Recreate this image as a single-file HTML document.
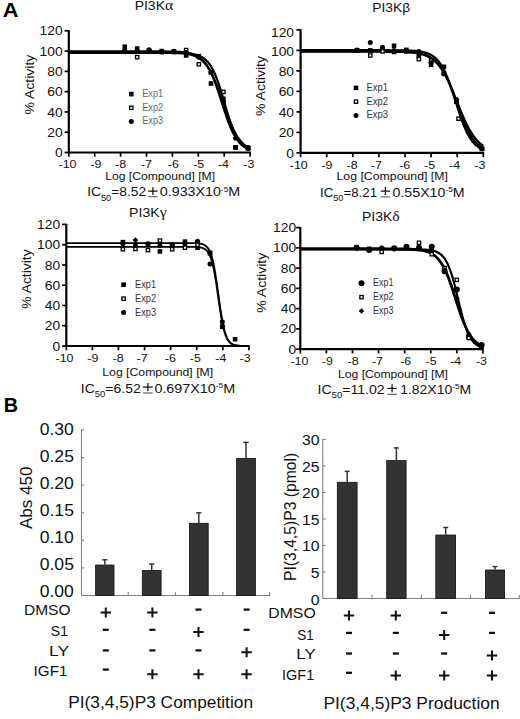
<!DOCTYPE html>
<html><head><meta charset="utf-8"><style>
html,body{margin:0;padding:0;background:#fff;width:520px;height:719px;overflow:hidden}
svg{display:block}
text{font-family:"Liberation Sans", sans-serif}
</style></head><body>
<svg width="520" height="719" viewBox="0 0 520 719">
<rect width="520" height="719" fill="#fff"/>
<text x="2.86" y="17.3" font-size="20.4" textLength="15.74" lengthAdjust="spacingAndGlyphs" fill="#000" font-weight="bold">A</text>
<line x1="68.8" y1="30.2" x2="68.8" y2="153.5" stroke="#000" stroke-width="2.2"/>
<line x1="67.8" y1="152.5" x2="251" y2="152.5" stroke="#000" stroke-width="2.2"/>
<line x1="64.6" y1="152.5" x2="68.8" y2="152.5" stroke="#000" stroke-width="1.7"/>
<text x="54.92" y="157.1" font-size="12.9" textLength="7.68" lengthAdjust="spacingAndGlyphs" fill="#111">0</text>
<line x1="64.6" y1="132.22" x2="68.8" y2="132.22" stroke="#000" stroke-width="1.7"/>
<text x="47.26" y="136.82" font-size="12.9" textLength="15.35" lengthAdjust="spacingAndGlyphs" fill="#111">20</text>
<line x1="64.6" y1="111.93" x2="68.8" y2="111.93" stroke="#000" stroke-width="1.7"/>
<text x="47.26" y="116.53" font-size="12.9" textLength="15.35" lengthAdjust="spacingAndGlyphs" fill="#111">40</text>
<line x1="64.6" y1="91.65" x2="68.8" y2="91.65" stroke="#000" stroke-width="1.7"/>
<text x="47.26" y="96.25" font-size="12.9" textLength="15.35" lengthAdjust="spacingAndGlyphs" fill="#111">60</text>
<line x1="64.6" y1="71.37" x2="68.8" y2="71.37" stroke="#000" stroke-width="1.7"/>
<text x="47.26" y="75.97" font-size="12.9" textLength="15.35" lengthAdjust="spacingAndGlyphs" fill="#111">80</text>
<line x1="64.6" y1="51.08" x2="68.8" y2="51.08" stroke="#000" stroke-width="1.7"/>
<text x="39.6" y="55.68" font-size="12.9" textLength="23.03" lengthAdjust="spacingAndGlyphs" fill="#111">100</text>
<line x1="64.6" y1="30.8" x2="68.8" y2="30.8" stroke="#000" stroke-width="1.7"/>
<text x="39.6" y="35.4" font-size="12.9" textLength="23.03" lengthAdjust="spacingAndGlyphs" fill="#111">120</text>
<line x1="68.8" y1="152.5" x2="68.8" y2="156.8" stroke="#000" stroke-width="1.7"/>
<text x="58.56" y="168.4" font-size="11.3" textLength="17.97" lengthAdjust="spacingAndGlyphs" fill="#111">-10</text>
<line x1="94.7" y1="152.5" x2="94.7" y2="156.8" stroke="#000" stroke-width="1.7"/>
<text x="90.42" y="168.4" font-size="11.3" textLength="11.05" lengthAdjust="spacingAndGlyphs" fill="#111">-9</text>
<line x1="120.6" y1="152.5" x2="120.6" y2="156.8" stroke="#000" stroke-width="1.7"/>
<text x="115.14" y="168.4" font-size="11.3" textLength="11.05" lengthAdjust="spacingAndGlyphs" fill="#111">-8</text>
<line x1="146.5" y1="152.5" x2="146.5" y2="156.8" stroke="#000" stroke-width="1.7"/>
<text x="140.9" y="168.4" font-size="11.3" textLength="11.05" lengthAdjust="spacingAndGlyphs" fill="#111">-7</text>
<line x1="172.4" y1="152.5" x2="172.4" y2="156.8" stroke="#000" stroke-width="1.7"/>
<text x="167.84" y="168.4" font-size="11.3" textLength="11.05" lengthAdjust="spacingAndGlyphs" fill="#111">-6</text>
<line x1="198.3" y1="152.5" x2="198.3" y2="156.8" stroke="#000" stroke-width="1.7"/>
<text x="193.24" y="168.4" font-size="11.3" textLength="11.05" lengthAdjust="spacingAndGlyphs" fill="#111">-5</text>
<line x1="224.2" y1="152.5" x2="224.2" y2="156.8" stroke="#000" stroke-width="1.7"/>
<text x="217.88" y="168.4" font-size="11.3" textLength="11.05" lengthAdjust="spacingAndGlyphs" fill="#111">-4</text>
<line x1="250.1" y1="152.5" x2="250.1" y2="156.8" stroke="#000" stroke-width="1.7"/>
<text x="243.34" y="168.4" font-size="11.3" textLength="11.05" lengthAdjust="spacingAndGlyphs" fill="#111">-3</text>
<text x="134.68" y="9.7" font-size="13.2" textLength="38.49" lengthAdjust="spacingAndGlyphs" fill="#111">PI3K<tspan font-family="Liberation Serif" font-size="14.78">α</tspan></text>
<text transform="translate(33.5,114.1) rotate(-90)" x="-0.49" y="0" font-size="12.9" textLength="59.87" lengthAdjust="spacingAndGlyphs" fill="#111">% Activity</text>
<text x="105.23" y="180.1" font-size="11.6" textLength="109.83" lengthAdjust="spacingAndGlyphs" fill="#111">Log [Compound] [M]</text>
<text x="87.16" y="196.3" font-size="12.6" textLength="58.93" lengthAdjust="spacingAndGlyphs" fill="#111"><tspan>IC</tspan><tspan font-size="8.6" dy="4.4">50</tspan><tspan dy="-4.4">=8.52</tspan></text>
<text x="159.83" y="196.3" font-size="12.6" textLength="80.35" lengthAdjust="spacingAndGlyphs" fill="#111"><tspan>0.933X10</tspan><tspan font-size="7.4" dy="-4.6">-5</tspan><tspan dy="4.6">M</tspan></text>
<path d="M148.2,191.2H157.6M152.9,187.2V195.1" stroke="#111" stroke-width="1.25" fill="none"/>
<path d="M148.2,196.7H157.6" stroke="#555" stroke-width="1.1" fill="none"/>
<line x1="300.6" y1="29.3" x2="300.6" y2="153.9" stroke="#000" stroke-width="2.2"/>
<line x1="299.6" y1="152.9" x2="484.2" y2="152.9" stroke="#000" stroke-width="2.2"/>
<line x1="296.4" y1="152.9" x2="300.6" y2="152.9" stroke="#000" stroke-width="1.7"/>
<text x="286.32" y="157.5" font-size="12.9" textLength="7.68" lengthAdjust="spacingAndGlyphs" fill="#111">0</text>
<line x1="296.4" y1="132.4" x2="300.6" y2="132.4" stroke="#000" stroke-width="1.7"/>
<text x="278.66" y="137" font-size="12.9" textLength="15.35" lengthAdjust="spacingAndGlyphs" fill="#111">20</text>
<line x1="296.4" y1="111.9" x2="300.6" y2="111.9" stroke="#000" stroke-width="1.7"/>
<text x="278.66" y="116.5" font-size="12.9" textLength="15.35" lengthAdjust="spacingAndGlyphs" fill="#111">40</text>
<line x1="296.4" y1="91.4" x2="300.6" y2="91.4" stroke="#000" stroke-width="1.7"/>
<text x="278.66" y="96" font-size="12.9" textLength="15.35" lengthAdjust="spacingAndGlyphs" fill="#111">60</text>
<line x1="296.4" y1="70.9" x2="300.6" y2="70.9" stroke="#000" stroke-width="1.7"/>
<text x="278.66" y="75.5" font-size="12.9" textLength="15.35" lengthAdjust="spacingAndGlyphs" fill="#111">80</text>
<line x1="296.4" y1="50.4" x2="300.6" y2="50.4" stroke="#000" stroke-width="1.7"/>
<text x="271" y="55.5" font-size="12.9" textLength="23.03" lengthAdjust="spacingAndGlyphs" fill="#111">100</text>
<line x1="296.4" y1="29.9" x2="300.6" y2="29.9" stroke="#000" stroke-width="1.7"/>
<text x="271" y="36.9" font-size="12.9" textLength="23.03" lengthAdjust="spacingAndGlyphs" fill="#111">120</text>
<line x1="300.6" y1="152.9" x2="300.6" y2="157.2" stroke="#000" stroke-width="1.7"/>
<text x="289.76" y="168.8" font-size="11.3" textLength="17.97" lengthAdjust="spacingAndGlyphs" fill="#111">-10</text>
<line x1="326.7" y1="152.9" x2="326.7" y2="157.2" stroke="#000" stroke-width="1.7"/>
<text x="321.37" y="168.8" font-size="11.3" textLength="11.05" lengthAdjust="spacingAndGlyphs" fill="#111">-9</text>
<line x1="352.8" y1="152.9" x2="352.8" y2="157.2" stroke="#000" stroke-width="1.7"/>
<text x="346.54" y="168.8" font-size="11.3" textLength="11.05" lengthAdjust="spacingAndGlyphs" fill="#111">-8</text>
<line x1="378.9" y1="152.9" x2="378.9" y2="157.2" stroke="#000" stroke-width="1.7"/>
<text x="370.8" y="168.8" font-size="11.3" textLength="11.05" lengthAdjust="spacingAndGlyphs" fill="#111">-7</text>
<line x1="405" y1="152.9" x2="405" y2="157.2" stroke="#000" stroke-width="1.7"/>
<text x="399.24" y="168.8" font-size="11.3" textLength="11.05" lengthAdjust="spacingAndGlyphs" fill="#111">-6</text>
<line x1="431.1" y1="152.9" x2="431.1" y2="157.2" stroke="#000" stroke-width="1.7"/>
<text x="424.04" y="168.8" font-size="11.3" textLength="11.05" lengthAdjust="spacingAndGlyphs" fill="#111">-5</text>
<line x1="457.2" y1="152.9" x2="457.2" y2="157.2" stroke="#000" stroke-width="1.7"/>
<text x="449.08" y="168.8" font-size="11.3" textLength="11.05" lengthAdjust="spacingAndGlyphs" fill="#111">-4</text>
<line x1="483.3" y1="152.9" x2="483.3" y2="157.2" stroke="#000" stroke-width="1.7"/>
<text x="474.34" y="168.8" font-size="11.3" textLength="11.05" lengthAdjust="spacingAndGlyphs" fill="#111">-3</text>
<text x="372.19" y="11.6" font-size="13.2" textLength="37.96" lengthAdjust="spacingAndGlyphs" fill="#111">PI3Kβ</text>
<text transform="translate(265.2,115.5) rotate(-90)" x="-0.49" y="0" font-size="12.9" textLength="59.97" lengthAdjust="spacingAndGlyphs" fill="#111">% Activity</text>
<text x="336.52" y="180.4" font-size="11.6" textLength="111.35" lengthAdjust="spacingAndGlyphs" fill="#111">Log [Compound] [M]</text>
<text x="320" y="196.5" font-size="12.6" textLength="57.1" lengthAdjust="spacingAndGlyphs" fill="#111"><tspan>IC</tspan><tspan font-size="8.6" dy="4.4">50</tspan><tspan dy="-4.4">=8.21</tspan></text>
<text x="392.53" y="196.5" font-size="12.6" textLength="72.15" lengthAdjust="spacingAndGlyphs" fill="#111"><tspan>0.55X10</tspan><tspan font-size="7.4" dy="-4.6">-5</tspan><tspan dy="4.6">M</tspan></text>
<path d="M380.8,191.1H390M385.4,187.1V195" stroke="#111" stroke-width="1.25" fill="none"/>
<path d="M380.8,196.9H390" stroke="#555" stroke-width="1.1" fill="none"/>
<line x1="66.3" y1="223.8" x2="66.3" y2="347" stroke="#000" stroke-width="2.2"/>
<line x1="65.3" y1="346" x2="249.8" y2="346" stroke="#000" stroke-width="2.2"/>
<line x1="62.1" y1="346" x2="66.3" y2="346" stroke="#000" stroke-width="1.7"/>
<text x="52.42" y="350.6" font-size="12.9" textLength="7.68" lengthAdjust="spacingAndGlyphs" fill="#111">0</text>
<line x1="62.1" y1="325.73" x2="66.3" y2="325.73" stroke="#000" stroke-width="1.7"/>
<text x="44.76" y="330.33" font-size="12.9" textLength="15.35" lengthAdjust="spacingAndGlyphs" fill="#111">20</text>
<line x1="62.1" y1="305.47" x2="66.3" y2="305.47" stroke="#000" stroke-width="1.7"/>
<text x="44.76" y="310.07" font-size="12.9" textLength="15.35" lengthAdjust="spacingAndGlyphs" fill="#111">40</text>
<line x1="62.1" y1="285.2" x2="66.3" y2="285.2" stroke="#000" stroke-width="1.7"/>
<text x="44.76" y="289.8" font-size="12.9" textLength="15.35" lengthAdjust="spacingAndGlyphs" fill="#111">60</text>
<line x1="62.1" y1="264.93" x2="66.3" y2="264.93" stroke="#000" stroke-width="1.7"/>
<text x="44.76" y="269.53" font-size="12.9" textLength="15.35" lengthAdjust="spacingAndGlyphs" fill="#111">80</text>
<line x1="62.1" y1="244.67" x2="66.3" y2="244.67" stroke="#000" stroke-width="1.7"/>
<text x="37.1" y="249.27" font-size="12.9" textLength="23.03" lengthAdjust="spacingAndGlyphs" fill="#111">100</text>
<line x1="62.1" y1="224.4" x2="66.3" y2="224.4" stroke="#000" stroke-width="1.7"/>
<text x="37.1" y="229" font-size="12.9" textLength="23.03" lengthAdjust="spacingAndGlyphs" fill="#111">120</text>
<line x1="66.3" y1="346" x2="66.3" y2="350.3" stroke="#000" stroke-width="1.7"/>
<text x="55.56" y="361.9" font-size="11.3" textLength="17.97" lengthAdjust="spacingAndGlyphs" fill="#111">-10</text>
<line x1="92.39" y1="346" x2="92.39" y2="350.3" stroke="#000" stroke-width="1.7"/>
<text x="87.37" y="361.9" font-size="11.3" textLength="11.05" lengthAdjust="spacingAndGlyphs" fill="#111">-9</text>
<line x1="118.47" y1="346" x2="118.47" y2="350.3" stroke="#000" stroke-width="1.7"/>
<text x="112.64" y="361.9" font-size="11.3" textLength="11.05" lengthAdjust="spacingAndGlyphs" fill="#111">-8</text>
<line x1="144.56" y1="346" x2="144.56" y2="350.3" stroke="#000" stroke-width="1.7"/>
<text x="136.5" y="361.9" font-size="11.3" textLength="11.05" lengthAdjust="spacingAndGlyphs" fill="#111">-7</text>
<line x1="170.64" y1="346" x2="170.64" y2="350.3" stroke="#000" stroke-width="1.7"/>
<text x="164.84" y="361.9" font-size="11.3" textLength="11.05" lengthAdjust="spacingAndGlyphs" fill="#111">-6</text>
<line x1="196.73" y1="346" x2="196.73" y2="350.3" stroke="#000" stroke-width="1.7"/>
<text x="189.84" y="361.9" font-size="11.3" textLength="11.05" lengthAdjust="spacingAndGlyphs" fill="#111">-5</text>
<line x1="222.81" y1="346" x2="222.81" y2="350.3" stroke="#000" stroke-width="1.7"/>
<text x="215.38" y="361.9" font-size="11.3" textLength="11.05" lengthAdjust="spacingAndGlyphs" fill="#111">-4</text>
<line x1="248.9" y1="346" x2="248.9" y2="350.3" stroke="#000" stroke-width="1.7"/>
<text x="239.54" y="361.9" font-size="11.3" textLength="11.05" lengthAdjust="spacingAndGlyphs" fill="#111">-3</text>
<text x="129.06" y="216.9" font-size="13.2" textLength="37.78" lengthAdjust="spacingAndGlyphs" fill="#111">PI3K<tspan font-family="Liberation Serif" font-size="14.78">γ</tspan></text>
<text transform="translate(30.8,308.3) rotate(-90)" x="-0.49" y="0" font-size="12.9" textLength="59.37" lengthAdjust="spacingAndGlyphs" fill="#111">% Activity</text>
<text x="102.32" y="376.1" font-size="11.6" textLength="110.84" lengthAdjust="spacingAndGlyphs" fill="#111">Log [Compound] [M]</text>
<text x="80.84" y="392.6" font-size="12.6" textLength="59.86" lengthAdjust="spacingAndGlyphs" fill="#111"><tspan>IC</tspan><tspan font-size="8.6" dy="4.4">50</tspan><tspan dy="-4.4">=6.52</tspan></text>
<text x="154.43" y="392.6" font-size="12.6" textLength="80.76" lengthAdjust="spacingAndGlyphs" fill="#111"><tspan>0.697X10</tspan><tspan font-size="7.4" dy="-4.6">-5</tspan><tspan dy="4.6">M</tspan></text>
<path d="M143.05,387.1H152.75M147.9,383.1V391" stroke="#111" stroke-width="1.25" fill="none"/>
<path d="M143.05,393H152.75" stroke="#555" stroke-width="1.1" fill="none"/>
<line x1="300.3" y1="227" x2="300.3" y2="350.1" stroke="#000" stroke-width="2.2"/>
<line x1="299.3" y1="349.1" x2="483.8" y2="349.1" stroke="#000" stroke-width="2.2"/>
<line x1="296.1" y1="349.1" x2="300.3" y2="349.1" stroke="#000" stroke-width="1.7"/>
<text x="288.42" y="353.7" font-size="12.9" textLength="7.68" lengthAdjust="spacingAndGlyphs" fill="#111">0</text>
<line x1="296.1" y1="328.85" x2="300.3" y2="328.85" stroke="#000" stroke-width="1.7"/>
<text x="280.76" y="333.45" font-size="12.9" textLength="15.35" lengthAdjust="spacingAndGlyphs" fill="#111">20</text>
<line x1="296.1" y1="308.6" x2="300.3" y2="308.6" stroke="#000" stroke-width="1.7"/>
<text x="280.76" y="313.2" font-size="12.9" textLength="15.35" lengthAdjust="spacingAndGlyphs" fill="#111">40</text>
<line x1="296.1" y1="288.35" x2="300.3" y2="288.35" stroke="#000" stroke-width="1.7"/>
<text x="280.76" y="292.95" font-size="12.9" textLength="15.35" lengthAdjust="spacingAndGlyphs" fill="#111">60</text>
<line x1="296.1" y1="268.1" x2="300.3" y2="268.1" stroke="#000" stroke-width="1.7"/>
<text x="280.76" y="272.7" font-size="12.9" textLength="15.35" lengthAdjust="spacingAndGlyphs" fill="#111">80</text>
<line x1="296.1" y1="247.85" x2="300.3" y2="247.85" stroke="#000" stroke-width="1.7"/>
<text x="273.1" y="252.45" font-size="12.9" textLength="23.03" lengthAdjust="spacingAndGlyphs" fill="#111">100</text>
<line x1="296.1" y1="227.6" x2="300.3" y2="227.6" stroke="#000" stroke-width="1.7"/>
<text x="273.1" y="232.2" font-size="12.9" textLength="23.03" lengthAdjust="spacingAndGlyphs" fill="#111">120</text>
<line x1="300.3" y1="349.1" x2="300.3" y2="353.4" stroke="#000" stroke-width="1.7"/>
<text x="290.46" y="365.3" font-size="11.3" textLength="17.97" lengthAdjust="spacingAndGlyphs" fill="#111">-10</text>
<line x1="326.39" y1="349.1" x2="326.39" y2="353.4" stroke="#000" stroke-width="1.7"/>
<text x="321.77" y="365.3" font-size="11.3" textLength="11.05" lengthAdjust="spacingAndGlyphs" fill="#111">-9</text>
<line x1="352.47" y1="349.1" x2="352.47" y2="353.4" stroke="#000" stroke-width="1.7"/>
<text x="347.54" y="365.3" font-size="11.3" textLength="11.05" lengthAdjust="spacingAndGlyphs" fill="#111">-8</text>
<line x1="378.56" y1="349.1" x2="378.56" y2="353.4" stroke="#000" stroke-width="1.7"/>
<text x="371.9" y="365.3" font-size="11.3" textLength="11.05" lengthAdjust="spacingAndGlyphs" fill="#111">-7</text>
<line x1="404.64" y1="349.1" x2="404.64" y2="353.4" stroke="#000" stroke-width="1.7"/>
<text x="400.24" y="365.3" font-size="11.3" textLength="11.05" lengthAdjust="spacingAndGlyphs" fill="#111">-6</text>
<line x1="430.73" y1="349.1" x2="430.73" y2="353.4" stroke="#000" stroke-width="1.7"/>
<text x="425.64" y="365.3" font-size="11.3" textLength="11.05" lengthAdjust="spacingAndGlyphs" fill="#111">-5</text>
<line x1="456.81" y1="349.1" x2="456.81" y2="353.4" stroke="#000" stroke-width="1.7"/>
<text x="450.08" y="365.3" font-size="11.3" textLength="11.05" lengthAdjust="spacingAndGlyphs" fill="#111">-4</text>
<line x1="482.9" y1="349.1" x2="482.9" y2="353.4" stroke="#000" stroke-width="1.7"/>
<text x="475.94" y="365.3" font-size="11.3" textLength="11.05" lengthAdjust="spacingAndGlyphs" fill="#111">-3</text>
<text x="361.98" y="220.8" font-size="13.2" textLength="37.79" lengthAdjust="spacingAndGlyphs" fill="#111">PI3K<tspan font-family="Liberation Serif" font-size="14.78">δ</tspan></text>
<text transform="translate(265.9,312.2) rotate(-90)" x="-0.49" y="0" font-size="12.9" textLength="59.87" lengthAdjust="spacingAndGlyphs" fill="#111">% Activity</text>
<text x="338.03" y="377.9" font-size="11.6" textLength="109.93" lengthAdjust="spacingAndGlyphs" fill="#111">Log [Compound] [M]</text>
<text x="317.54" y="393.9" font-size="12.6" textLength="67" lengthAdjust="spacingAndGlyphs" fill="#111"><tspan>IC</tspan><tspan font-size="8.6" dy="4.4">50</tspan><tspan dy="-4.4">=11.02</tspan></text>
<text x="400.15" y="393.9" font-size="12.6" textLength="71.01" lengthAdjust="spacingAndGlyphs" fill="#111"><tspan>1.82X10</tspan><tspan font-size="7.4" dy="-4.6">-5</tspan><tspan dy="4.6">M</tspan></text>
<path d="M387.4,388.3H396.8M392.1,384.3V392.2" stroke="#111" stroke-width="1.25" fill="none"/>
<path d="M387.4,394.3H396.8" stroke="#555" stroke-width="1.1" fill="none"/>
<polyline points="68.80,51.39 69.56,51.39 70.31,51.39 71.07,51.39 71.82,51.39 72.58,51.39 73.33,51.39 74.09,51.39 74.84,51.39 75.60,51.39 76.35,51.39 77.11,51.39 77.86,51.39 78.62,51.39 79.38,51.39 80.13,51.39 80.89,51.39 81.64,51.39 82.40,51.39 83.15,51.39 83.91,51.39 84.66,51.39 85.42,51.39 86.17,51.39 86.93,51.39 87.69,51.39 88.44,51.39 89.20,51.39 89.95,51.39 90.71,51.39 91.46,51.39 92.22,51.39 92.97,51.39 93.73,51.39 94.48,51.39 95.24,51.39 96.00,51.39 96.75,51.39 97.51,51.39 98.26,51.39 99.02,51.39 99.77,51.39 100.53,51.39 101.28,51.39 102.04,51.39 102.79,51.39 103.55,51.39 104.30,51.39 105.06,51.39 105.82,51.39 106.57,51.39 107.33,51.39 108.08,51.39 108.84,51.39 109.59,51.39 110.35,51.39 111.10,51.39 111.86,51.39 112.61,51.39 113.37,51.39 114.12,51.39 114.88,51.39 115.64,51.39 116.39,51.39 117.15,51.39 117.90,51.39 118.66,51.39 119.41,51.39 120.17,51.39 120.92,51.39 121.68,51.39 122.43,51.39 123.19,51.39 123.95,51.39 124.70,51.39 125.46,51.39 126.21,51.39 126.97,51.39 127.72,51.39 128.48,51.39 129.23,51.39 129.99,51.39 130.74,51.39 131.50,51.39 132.25,51.39 133.01,51.39 133.77,51.39 134.52,51.39 135.28,51.39 136.03,51.39 136.79,51.39 137.54,51.39 138.30,51.39 139.05,51.39 139.81,51.39 140.56,51.39 141.32,51.39 142.08,51.39 142.83,51.39 143.59,51.39 144.34,51.39 145.10,51.39 145.85,51.40 146.61,51.40 147.36,51.40 148.12,51.40 148.87,51.40 149.63,51.40 150.39,51.40 151.14,51.40 151.90,51.40 152.65,51.41 153.41,51.41 154.16,51.41 154.92,51.41 155.67,51.42 156.43,51.42 157.18,51.42 157.94,51.42 158.69,51.43 159.45,51.43 160.21,51.44 160.96,51.44 161.72,51.45 162.47,51.45 163.23,51.46 163.98,51.47 164.74,51.47 165.49,51.48 166.25,51.49 167.00,51.50 167.76,51.51 168.51,51.52 169.27,51.54 170.03,51.55 170.78,51.57 171.54,51.59 172.29,51.61 173.05,51.63 173.80,51.65 174.56,51.68 175.31,51.70 176.07,51.74 176.82,51.77 177.58,51.81 178.34,51.85 179.09,51.89 179.85,51.94 180.60,52.00 181.36,52.06 182.11,52.12 182.87,52.20 183.62,52.27 184.38,52.36 185.13,52.46 185.89,52.56 186.64,52.67 187.40,52.80 188.16,52.94 188.91,53.09 189.67,53.25 190.42,53.43 191.18,53.63 191.93,53.84 192.69,54.08 193.44,54.34 194.20,54.62 194.95,54.92 195.71,55.26 196.47,55.62 197.22,56.02 197.98,56.46 198.73,56.93 199.49,57.44 200.24,58.00 201.00,58.61 201.75,59.26 202.51,59.97 203.26,60.74 204.02,61.57 204.77,62.46 205.53,63.43 206.29,64.46 207.04,65.57 207.80,66.75 208.55,68.02 209.31,69.37 210.06,70.80 210.82,72.32 211.57,73.92 212.33,75.61 213.08,77.38 213.84,79.24 214.60,81.18 215.35,83.19 216.11,85.27 216.86,87.42 217.62,89.63 218.37,91.89 219.13,94.20 219.88,96.53 220.64,98.89 221.39,101.26 222.15,103.64 222.91,106.01 223.66,108.36 224.42,110.68 225.17,112.97 225.93,115.21 226.68,117.39 227.44,119.51 228.19,121.57 228.95,123.55 229.70,125.45 230.46,127.27 231.21,129.01 231.97,130.67 232.73,132.23 233.48,133.71 234.24,135.11 234.99,136.42 235.75,137.65 236.50,138.80 237.26,139.88 238.01,140.88 238.77,141.81 239.52,142.68 240.28,143.48 241.04,144.23 241.79,144.91 242.55,145.55 243.30,146.13 244.06,146.67 244.81,147.17 245.57,147.62 246.32,148.04 247.08,148.42 247.83,148.78 248.59,149.10 249.34,149.39 250.10,149.67" fill="none" stroke="#000" stroke-width="2.2" stroke-linejoin="round"/>
<polyline points="68.80,52.30 69.56,52.30 70.31,52.30 71.07,52.30 71.82,52.30 72.58,52.30 73.33,52.30 74.09,52.30 74.84,52.30 75.60,52.30 76.35,52.30 77.11,52.30 77.86,52.30 78.62,52.30 79.38,52.30 80.13,52.30 80.89,52.30 81.64,52.30 82.40,52.30 83.15,52.30 83.91,52.30 84.66,52.30 85.42,52.30 86.17,52.30 86.93,52.30 87.69,52.30 88.44,52.30 89.20,52.30 89.95,52.30 90.71,52.30 91.46,52.30 92.22,52.30 92.97,52.30 93.73,52.30 94.48,52.30 95.24,52.30 96.00,52.30 96.75,52.30 97.51,52.30 98.26,52.30 99.02,52.30 99.77,52.30 100.53,52.30 101.28,52.30 102.04,52.30 102.79,52.30 103.55,52.30 104.30,52.30 105.06,52.30 105.82,52.30 106.57,52.30 107.33,52.30 108.08,52.30 108.84,52.30 109.59,52.30 110.35,52.30 111.10,52.30 111.86,52.30 112.61,52.30 113.37,52.30 114.12,52.30 114.88,52.30 115.64,52.30 116.39,52.30 117.15,52.30 117.90,52.30 118.66,52.30 119.41,52.30 120.17,52.30 120.92,52.30 121.68,52.30 122.43,52.30 123.19,52.30 123.95,52.30 124.70,52.30 125.46,52.30 126.21,52.30 126.97,52.30 127.72,52.30 128.48,52.30 129.23,52.30 129.99,52.30 130.74,52.30 131.50,52.30 132.25,52.30 133.01,52.30 133.77,52.30 134.52,52.30 135.28,52.30 136.03,52.30 136.79,52.31 137.54,52.31 138.30,52.31 139.05,52.31 139.81,52.31 140.56,52.31 141.32,52.31 142.08,52.31 142.83,52.31 143.59,52.31 144.34,52.31 145.10,52.31 145.85,52.31 146.61,52.32 147.36,52.32 148.12,52.32 148.87,52.32 149.63,52.32 150.39,52.32 151.14,52.33 151.90,52.33 152.65,52.33 153.41,52.33 154.16,52.34 154.92,52.34 155.67,52.34 156.43,52.35 157.18,52.35 157.94,52.36 158.69,52.36 159.45,52.37 160.21,52.37 160.96,52.38 161.72,52.39 162.47,52.39 163.23,52.40 163.98,52.41 164.74,52.42 165.49,52.43 166.25,52.44 167.00,52.46 167.76,52.47 168.51,52.49 169.27,52.50 170.03,52.52 170.78,52.54 171.54,52.56 172.29,52.59 173.05,52.61 173.80,52.64 174.56,52.67 175.31,52.71 176.07,52.75 176.82,52.79 177.58,52.83 178.34,52.88 179.09,52.93 179.85,52.99 180.60,53.05 181.36,53.12 182.11,53.19 182.87,53.27 183.62,53.36 184.38,53.45 185.13,53.56 185.89,53.67 186.64,53.79 187.40,53.93 188.16,54.07 188.91,54.23 189.67,54.41 190.42,54.59 191.18,54.80 191.93,55.02 192.69,55.26 193.44,55.52 194.20,55.80 194.95,56.11 195.71,56.45 196.47,56.81 197.22,57.20 197.98,57.62 198.73,58.08 199.49,58.57 200.24,59.11 201.00,59.68 201.75,60.30 202.51,60.97 203.26,61.68 204.02,62.45 204.77,63.28 205.53,64.16 206.29,65.10 207.04,66.11 207.80,67.18 208.55,68.32 209.31,69.53 210.06,70.82 210.82,72.17 211.57,73.60 212.33,75.10 213.08,76.67 213.84,78.32 214.60,80.04 215.35,81.82 216.11,83.67 216.86,85.58 217.62,87.55 218.37,89.57 219.13,91.64 219.88,93.74 220.64,95.88 221.39,98.04 222.15,100.21 222.91,102.40 223.66,104.59 224.42,106.76 225.17,108.92 225.93,111.06 226.68,113.16 227.44,115.23 228.19,117.25 228.95,119.22 229.70,121.13 230.46,122.98 231.21,124.76 231.97,126.48 232.73,128.13 233.48,129.70 234.24,131.20 234.99,132.63 235.75,133.98 236.50,135.27 237.26,136.48 238.01,137.62 238.77,138.69 239.52,139.70 240.28,140.64 241.04,141.52 241.79,142.35 242.55,143.12 243.30,143.83 244.06,144.50 244.81,145.12 245.57,145.70 246.32,146.23 247.08,146.72 247.83,147.18 248.59,147.60 249.34,147.99 250.10,148.36" fill="none" stroke="#000" stroke-width="2.2" stroke-linejoin="round"/>
<polyline points="68.80,52.91 69.56,52.91 70.31,52.91 71.07,52.91 71.82,52.91 72.58,52.91 73.33,52.91 74.09,52.91 74.84,52.91 75.60,52.91 76.35,52.91 77.11,52.91 77.86,52.91 78.62,52.91 79.38,52.91 80.13,52.91 80.89,52.91 81.64,52.91 82.40,52.91 83.15,52.91 83.91,52.91 84.66,52.91 85.42,52.91 86.17,52.91 86.93,52.91 87.69,52.91 88.44,52.91 89.20,52.91 89.95,52.91 90.71,52.91 91.46,52.91 92.22,52.91 92.97,52.91 93.73,52.91 94.48,52.91 95.24,52.91 96.00,52.91 96.75,52.91 97.51,52.91 98.26,52.91 99.02,52.91 99.77,52.91 100.53,52.91 101.28,52.91 102.04,52.91 102.79,52.91 103.55,52.91 104.30,52.91 105.06,52.91 105.82,52.91 106.57,52.91 107.33,52.91 108.08,52.91 108.84,52.91 109.59,52.91 110.35,52.91 111.10,52.91 111.86,52.91 112.61,52.91 113.37,52.91 114.12,52.91 114.88,52.91 115.64,52.91 116.39,52.91 117.15,52.91 117.90,52.91 118.66,52.91 119.41,52.91 120.17,52.91 120.92,52.91 121.68,52.91 122.43,52.91 123.19,52.91 123.95,52.91 124.70,52.91 125.46,52.91 126.21,52.91 126.97,52.91 127.72,52.91 128.48,52.91 129.23,52.91 129.99,52.91 130.74,52.91 131.50,52.91 132.25,52.91 133.01,52.91 133.77,52.91 134.52,52.91 135.28,52.91 136.03,52.91 136.79,52.91 137.54,52.91 138.30,52.91 139.05,52.91 139.81,52.91 140.56,52.91 141.32,52.91 142.08,52.91 142.83,52.91 143.59,52.91 144.34,52.91 145.10,52.91 145.85,52.91 146.61,52.91 147.36,52.91 148.12,52.91 148.87,52.91 149.63,52.91 150.39,52.91 151.14,52.91 151.90,52.91 152.65,52.91 153.41,52.91 154.16,52.92 154.92,52.92 155.67,52.92 156.43,52.92 157.18,52.92 157.94,52.92 158.69,52.92 159.45,52.92 160.21,52.92 160.96,52.92 161.72,52.93 162.47,52.93 163.23,52.93 163.98,52.93 164.74,52.94 165.49,52.94 166.25,52.94 167.00,52.95 167.76,52.95 168.51,52.95 169.27,52.96 170.03,52.96 170.78,52.97 171.54,52.98 172.29,52.98 173.05,52.99 173.80,53.00 174.56,53.01 175.31,53.02 176.07,53.04 176.82,53.05 177.58,53.06 178.34,53.08 179.09,53.10 179.85,53.12 180.60,53.14 181.36,53.17 182.11,53.20 182.87,53.23 183.62,53.27 184.38,53.30 185.13,53.35 185.89,53.40 186.64,53.45 187.40,53.51 188.16,53.57 188.91,53.65 189.67,53.73 190.42,53.82 191.18,53.91 191.93,54.02 192.69,54.14 193.44,54.28 194.20,54.42 194.95,54.59 195.71,54.77 196.47,54.97 197.22,55.19 197.98,55.43 198.73,55.70 199.49,56.00 200.24,56.33 201.00,56.69 201.75,57.09 202.51,57.52 203.26,58.00 204.02,58.53 204.77,59.11 205.53,59.74 206.29,60.43 207.04,61.19 207.80,62.02 208.55,62.92 209.31,63.89 210.06,64.95 210.82,66.10 211.57,67.33 212.33,68.67 213.08,70.10 213.84,71.63 214.60,73.26 215.35,75.00 216.11,76.84 216.86,78.78 217.62,80.83 218.37,82.97 219.13,85.19 219.88,87.51 220.64,89.89 221.39,92.34 222.15,94.85 222.91,97.39 223.66,99.97 224.42,102.56 225.17,105.15 225.93,107.72 226.68,110.27 227.44,112.78 228.19,115.24 228.95,117.63 229.70,119.95 230.46,122.19 231.21,124.34 231.97,126.40 232.73,128.35 233.48,130.20 234.24,131.95 234.99,133.60 235.75,135.14 236.50,136.58 237.26,137.93 238.01,139.17 238.77,140.33 239.52,141.40 240.28,142.39 241.04,143.29 241.79,144.13 242.55,144.89 243.30,145.59 244.06,146.23 244.81,146.82 245.57,147.35 246.32,147.83 247.08,148.28 247.83,148.68 248.59,149.04 249.34,149.37 250.10,149.67" fill="none" stroke="#000" stroke-width="2.2" stroke-linejoin="round"/>
<polyline points="300.60,50.20 301.36,50.20 302.12,50.20 302.88,50.20 303.65,50.20 304.41,50.20 305.17,50.20 305.93,50.20 306.69,50.20 307.45,50.20 308.21,50.20 308.97,50.20 309.74,50.20 310.50,50.20 311.26,50.20 312.02,50.20 312.78,50.20 313.54,50.20 314.30,50.20 315.06,50.20 315.83,50.20 316.59,50.20 317.35,50.20 318.11,50.20 318.87,50.20 319.63,50.20 320.39,50.20 321.15,50.20 321.92,50.20 322.68,50.20 323.44,50.20 324.20,50.20 324.96,50.20 325.72,50.20 326.48,50.20 327.24,50.20 328.01,50.20 328.77,50.20 329.53,50.20 330.29,50.20 331.05,50.20 331.81,50.20 332.57,50.20 333.33,50.20 334.10,50.20 334.86,50.20 335.62,50.20 336.38,50.20 337.14,50.20 337.90,50.20 338.66,50.20 339.42,50.20 340.19,50.20 340.95,50.20 341.71,50.20 342.47,50.20 343.23,50.20 343.99,50.20 344.75,50.20 345.51,50.20 346.28,50.20 347.04,50.20 347.80,50.20 348.56,50.20 349.32,50.20 350.08,50.20 350.84,50.20 351.60,50.20 352.37,50.20 353.13,50.20 353.89,50.20 354.65,50.20 355.41,50.20 356.17,50.20 356.93,50.20 357.69,50.20 358.46,50.20 359.22,50.20 359.98,50.20 360.74,50.20 361.50,50.20 362.26,50.20 363.02,50.20 363.78,50.20 364.55,50.20 365.31,50.20 366.07,50.20 366.83,50.20 367.59,50.20 368.35,50.20 369.11,50.20 369.87,50.20 370.63,50.20 371.40,50.20 372.16,50.20 372.92,50.20 373.68,50.20 374.44,50.20 375.20,50.20 375.96,50.20 376.73,50.20 377.49,50.20 378.25,50.20 379.01,50.20 379.77,50.20 380.53,50.20 381.29,50.21 382.05,50.21 382.82,50.21 383.58,50.21 384.34,50.21 385.10,50.21 385.86,50.21 386.62,50.22 387.38,50.22 388.14,50.22 388.90,50.22 389.67,50.22 390.43,50.23 391.19,50.23 391.95,50.23 392.71,50.24 393.47,50.24 394.23,50.25 395.00,50.25 395.76,50.26 396.52,50.26 397.28,50.27 398.04,50.28 398.80,50.29 399.56,50.30 400.32,50.31 401.09,50.32 401.85,50.33 402.61,50.34 403.37,50.36 404.13,50.37 404.89,50.39 405.65,50.41 406.41,50.43 407.18,50.45 407.94,50.48 408.70,50.51 409.46,50.54 410.22,50.57 410.98,50.61 411.74,50.65 412.50,50.69 413.26,50.74 414.03,50.79 414.79,50.85 415.55,50.92 416.31,50.99 417.07,51.06 417.83,51.15 418.59,51.24 419.36,51.35 420.12,51.46 420.88,51.58 421.64,51.71 422.40,51.86 423.16,52.02 423.92,52.20 424.68,52.39 425.45,52.60 426.21,52.84 426.97,53.09 427.73,53.37 428.49,53.67 429.25,54.00 430.01,54.36 430.77,54.75 431.54,55.18 432.30,55.64 433.06,56.15 433.82,56.70 434.58,57.29 435.34,57.94 436.10,58.64 436.86,59.40 437.62,60.22 438.39,61.10 439.15,62.05 439.91,63.07 440.67,64.17 441.43,65.35 442.19,66.60 442.95,67.94 443.72,69.36 444.48,70.87 445.24,72.47 446.00,74.15 446.76,75.92 447.52,77.78 448.28,79.71 449.04,81.73 449.81,83.82 450.57,85.98 451.33,88.20 452.09,90.48 452.85,92.80 453.61,95.17 454.37,97.56 455.13,99.96 455.90,102.38 456.66,104.79 457.42,107.18 458.18,109.55 458.94,111.89 459.70,114.18 460.46,116.42 461.22,118.60 461.99,120.72 462.75,122.76 463.51,124.72 464.27,126.60 465.03,128.40 465.79,130.11 466.55,131.73 467.31,133.27 468.08,134.72 468.84,136.08 469.60,137.36 470.36,138.56 471.12,139.68 471.88,140.73 472.64,141.70 473.40,142.61 474.17,143.45 474.93,144.22 475.69,144.94 476.45,145.60 477.21,146.22 477.97,146.78 478.73,147.30 479.49,147.78 480.25,148.22 481.02,148.62 481.78,148.99 482.54,149.33 483.30,149.64" fill="none" stroke="#000" stroke-width="2.2" stroke-linejoin="round"/>
<polyline points="300.60,51.22 301.36,51.22 302.12,51.22 302.88,51.22 303.65,51.22 304.41,51.22 305.17,51.22 305.93,51.22 306.69,51.22 307.45,51.22 308.21,51.22 308.97,51.22 309.74,51.22 310.50,51.22 311.26,51.22 312.02,51.22 312.78,51.22 313.54,51.22 314.30,51.22 315.06,51.22 315.83,51.22 316.59,51.22 317.35,51.22 318.11,51.22 318.87,51.22 319.63,51.22 320.39,51.22 321.15,51.22 321.92,51.22 322.68,51.22 323.44,51.22 324.20,51.22 324.96,51.22 325.72,51.22 326.48,51.22 327.24,51.22 328.01,51.22 328.77,51.22 329.53,51.22 330.29,51.22 331.05,51.22 331.81,51.22 332.57,51.22 333.33,51.22 334.10,51.22 334.86,51.22 335.62,51.22 336.38,51.22 337.14,51.22 337.90,51.22 338.66,51.22 339.42,51.22 340.19,51.22 340.95,51.22 341.71,51.22 342.47,51.22 343.23,51.22 343.99,51.22 344.75,51.22 345.51,51.22 346.28,51.22 347.04,51.22 347.80,51.22 348.56,51.22 349.32,51.22 350.08,51.22 350.84,51.22 351.60,51.22 352.37,51.22 353.13,51.22 353.89,51.22 354.65,51.22 355.41,51.22 356.17,51.22 356.93,51.23 357.69,51.23 358.46,51.23 359.22,51.23 359.98,51.23 360.74,51.23 361.50,51.23 362.26,51.23 363.02,51.23 363.78,51.23 364.55,51.23 365.31,51.23 366.07,51.23 366.83,51.23 367.59,51.23 368.35,51.24 369.11,51.24 369.87,51.24 370.63,51.24 371.40,51.24 372.16,51.24 372.92,51.24 373.68,51.25 374.44,51.25 375.20,51.25 375.96,51.25 376.73,51.26 377.49,51.26 378.25,51.26 379.01,51.26 379.77,51.27 380.53,51.27 381.29,51.28 382.05,51.28 382.82,51.29 383.58,51.29 384.34,51.30 385.10,51.30 385.86,51.31 386.62,51.32 387.38,51.32 388.14,51.33 388.90,51.34 389.67,51.35 390.43,51.36 391.19,51.37 391.95,51.38 392.71,51.39 393.47,51.41 394.23,51.42 395.00,51.44 395.76,51.45 396.52,51.47 397.28,51.49 398.04,51.51 398.80,51.54 399.56,51.56 400.32,51.59 401.09,51.62 401.85,51.65 402.61,51.68 403.37,51.72 404.13,51.75 404.89,51.80 405.65,51.84 406.41,51.89 407.18,51.94 407.94,52.00 408.70,52.06 409.46,52.12 410.22,52.19 410.98,52.27 411.74,52.35 412.50,52.43 413.26,52.53 414.03,52.63 414.79,52.74 415.55,52.85 416.31,52.98 417.07,53.11 417.83,53.26 418.59,53.41 419.36,53.58 420.12,53.76 420.88,53.95 421.64,54.16 422.40,54.38 423.16,54.62 423.92,54.88 424.68,55.15 425.45,55.45 426.21,55.76 426.97,56.10 427.73,56.46 428.49,56.85 429.25,57.26 430.01,57.71 430.77,58.18 431.54,58.68 432.30,59.22 433.06,59.79 433.82,60.40 434.58,61.05 435.34,61.74 436.10,62.47 436.86,63.24 437.62,64.06 438.39,64.93 439.15,65.85 439.91,66.81 440.67,67.83 441.43,68.90 442.19,70.03 442.95,71.21 443.72,72.45 444.48,73.74 445.24,75.08 446.00,76.48 446.76,77.94 447.52,79.45 448.28,81.01 449.04,82.62 449.81,84.27 450.57,85.97 451.33,87.71 452.09,89.49 452.85,91.30 453.61,93.14 454.37,95.00 455.13,96.89 455.90,98.79 456.66,100.69 457.42,102.61 458.18,104.52 458.94,106.42 459.70,108.31 460.46,110.18 461.22,112.04 461.99,113.86 462.75,115.65 463.51,117.41 464.27,119.13 465.03,120.80 465.79,122.43 466.55,124.01 467.31,125.54 468.08,127.02 468.84,128.44 469.60,129.81 470.36,131.13 471.12,132.39 471.88,133.59 472.64,134.74 473.40,135.83 474.17,136.88 474.93,137.87 475.69,138.80 476.45,139.69 477.21,140.53 477.97,141.33 478.73,142.08 479.49,142.78 480.25,143.45 481.02,144.07 481.78,144.66 482.54,145.21 483.30,145.73" fill="none" stroke="#000" stroke-width="2.2" stroke-linejoin="round"/>
<polyline points="300.60,51.73 301.36,51.73 302.12,51.73 302.88,51.73 303.65,51.73 304.41,51.73 305.17,51.73 305.93,51.73 306.69,51.73 307.45,51.73 308.21,51.73 308.97,51.73 309.74,51.73 310.50,51.73 311.26,51.73 312.02,51.73 312.78,51.73 313.54,51.73 314.30,51.73 315.06,51.73 315.83,51.73 316.59,51.73 317.35,51.73 318.11,51.73 318.87,51.73 319.63,51.73 320.39,51.73 321.15,51.73 321.92,51.73 322.68,51.73 323.44,51.73 324.20,51.73 324.96,51.73 325.72,51.73 326.48,51.73 327.24,51.73 328.01,51.73 328.77,51.73 329.53,51.73 330.29,51.73 331.05,51.73 331.81,51.73 332.57,51.73 333.33,51.73 334.10,51.73 334.86,51.73 335.62,51.73 336.38,51.73 337.14,51.73 337.90,51.73 338.66,51.73 339.42,51.73 340.19,51.73 340.95,51.73 341.71,51.73 342.47,51.73 343.23,51.73 343.99,51.73 344.75,51.73 345.51,51.73 346.28,51.73 347.04,51.73 347.80,51.73 348.56,51.73 349.32,51.73 350.08,51.73 350.84,51.73 351.60,51.73 352.37,51.73 353.13,51.73 353.89,51.73 354.65,51.73 355.41,51.73 356.17,51.73 356.93,51.73 357.69,51.73 358.46,51.73 359.22,51.73 359.98,51.73 360.74,51.74 361.50,51.74 362.26,51.74 363.02,51.74 363.78,51.74 364.55,51.74 365.31,51.74 366.07,51.74 366.83,51.74 367.59,51.74 368.35,51.74 369.11,51.74 369.87,51.74 370.63,51.74 371.40,51.74 372.16,51.74 372.92,51.74 373.68,51.74 374.44,51.74 375.20,51.75 375.96,51.75 376.73,51.75 377.49,51.75 378.25,51.75 379.01,51.75 379.77,51.75 380.53,51.76 381.29,51.76 382.05,51.76 382.82,51.76 383.58,51.77 384.34,51.77 385.10,51.77 385.86,51.77 386.62,51.78 387.38,51.78 388.14,51.79 388.90,51.79 389.67,51.80 390.43,51.80 391.19,51.81 391.95,51.82 392.71,51.82 393.47,51.83 394.23,51.84 395.00,51.85 395.76,51.86 396.52,51.87 397.28,51.88 398.04,51.89 398.80,51.91 399.56,51.92 400.32,51.94 401.09,51.96 401.85,51.98 402.61,52.00 403.37,52.02 404.13,52.05 404.89,52.08 405.65,52.11 406.41,52.14 407.18,52.17 407.94,52.21 408.70,52.25 409.46,52.30 410.22,52.35 410.98,52.40 411.74,52.46 412.50,52.52 413.26,52.59 414.03,52.67 414.79,52.75 415.55,52.84 416.31,52.93 417.07,53.04 417.83,53.15 418.59,53.27 419.36,53.40 420.12,53.55 420.88,53.70 421.64,53.87 422.40,54.05 423.16,54.25 423.92,54.47 424.68,54.70 425.45,54.95 426.21,55.22 426.97,55.52 427.73,55.84 428.49,56.18 429.25,56.55 430.01,56.95 430.77,57.38 431.54,57.85 432.30,58.35 433.06,58.88 433.82,59.46 434.58,60.08 435.34,60.75 436.10,61.46 436.86,62.23 437.62,63.04 438.39,63.92 439.15,64.84 439.91,65.83 440.67,66.88 441.43,68.00 442.19,69.17 442.95,70.42 443.72,71.73 444.48,73.11 445.24,74.56 446.00,76.08 446.76,77.67 447.52,79.32 448.28,81.04 449.04,82.81 449.81,84.65 450.57,86.54 451.33,88.48 452.09,90.47 452.85,92.49 453.61,94.55 454.37,96.64 455.13,98.74 455.90,100.86 456.66,102.98 457.42,105.10 458.18,107.21 458.94,109.31 459.70,111.38 460.46,113.42 461.22,115.42 461.99,117.38 462.75,119.29 463.51,121.14 464.27,122.94 465.03,124.68 465.79,126.36 466.55,127.97 467.31,129.51 468.08,130.99 468.84,132.39 469.60,133.73 470.36,135.00 471.12,136.21 471.88,137.34 472.64,138.42 473.40,139.43 474.17,140.38 474.93,141.27 475.69,142.11 476.45,142.89 477.21,143.62 477.97,144.31 478.73,144.94 479.49,145.54 480.25,146.09 481.02,146.60 481.78,147.08 482.54,147.53 483.30,147.94" fill="none" stroke="#000" stroke-width="2.2" stroke-linejoin="round"/>
<polyline points="66.30,246.79 67.06,246.79 67.82,246.79 68.58,246.79 69.34,246.79 70.10,246.79 70.87,246.79 71.63,246.79 72.39,246.79 73.15,246.79 73.91,246.79 74.67,246.79 75.43,246.79 76.19,246.79 76.95,246.79 77.71,246.79 78.47,246.79 79.23,246.79 80.00,246.79 80.76,246.79 81.52,246.79 82.28,246.79 83.04,246.79 83.80,246.79 84.56,246.79 85.32,246.79 86.08,246.79 86.84,246.79 87.60,246.79 88.36,246.79 89.12,246.79 89.89,246.79 90.65,246.79 91.41,246.79 92.17,246.79 92.93,246.79 93.69,246.79 94.45,246.79 95.21,246.79 95.97,246.79 96.73,246.79 97.49,246.79 98.25,246.79 99.02,246.79 99.78,246.79 100.54,246.79 101.30,246.79 102.06,246.79 102.82,246.79 103.58,246.79 104.34,246.79 105.10,246.79 105.86,246.79 106.62,246.79 107.38,246.79 108.15,246.79 108.91,246.79 109.67,246.79 110.43,246.79 111.19,246.79 111.95,246.79 112.71,246.79 113.47,246.79 114.23,246.79 114.99,246.79 115.75,246.79 116.52,246.79 117.28,246.79 118.04,246.79 118.80,246.79 119.56,246.79 120.32,246.79 121.08,246.79 121.84,246.79 122.60,246.79 123.36,246.79 124.12,246.79 124.88,246.79 125.65,246.79 126.41,246.79 127.17,246.79 127.93,246.79 128.69,246.79 129.45,246.79 130.21,246.79 130.97,246.79 131.73,246.79 132.49,246.79 133.25,246.79 134.01,246.79 134.78,246.79 135.54,246.79 136.30,246.79 137.06,246.79 137.82,246.79 138.58,246.79 139.34,246.79 140.10,246.79 140.86,246.79 141.62,246.79 142.38,246.79 143.14,246.79 143.91,246.79 144.67,246.79 145.43,246.79 146.19,246.79 146.95,246.79 147.71,246.79 148.47,246.79 149.23,246.79 149.99,246.79 150.75,246.79 151.51,246.79 152.27,246.79 153.04,246.79 153.80,246.79 154.56,246.79 155.32,246.79 156.08,246.79 156.84,246.79 157.60,246.79 158.36,246.79 159.12,246.79 159.88,246.79 160.64,246.79 161.40,246.79 162.17,246.79 162.93,246.79 163.69,246.79 164.45,246.79 165.21,246.79 165.97,246.79 166.73,246.79 167.49,246.79 168.25,246.79 169.01,246.79 169.77,246.79 170.53,246.79 171.30,246.79 172.06,246.79 172.82,246.79 173.58,246.80 174.34,246.80 175.10,246.80 175.86,246.80 176.62,246.80 177.38,246.80 178.14,246.80 178.90,246.80 179.66,246.80 180.43,246.80 181.19,246.80 181.95,246.80 182.71,246.80 183.47,246.80 184.23,246.80 184.99,246.80 185.75,246.81 186.51,246.81 187.27,246.81 188.03,246.81 188.79,246.82 189.56,246.83 190.32,246.83 191.08,246.84 191.84,246.85 192.60,246.87 193.36,246.89 194.12,246.91 194.88,246.93 195.64,246.97 196.40,247.01 197.16,247.06 197.92,247.12 198.69,247.20 199.45,247.30 200.21,247.42 200.97,247.57 201.73,247.75 202.49,247.98 203.25,248.26 204.01,248.61 204.77,249.03 205.53,249.55 206.29,250.19 207.05,250.97 207.81,251.92 208.58,253.07 209.34,254.46 210.10,256.12 210.86,258.10 211.62,260.44 212.38,263.17 213.14,266.32 213.90,269.91 214.66,273.94 215.42,278.38 216.18,283.17 216.94,288.25 217.71,293.51 218.47,298.83 219.23,304.10 219.99,309.20 220.75,314.02 221.51,318.49 222.27,322.55 223.03,326.18 223.79,329.37 224.55,332.14 225.31,334.51 226.08,336.52 226.84,338.21 227.60,339.62 228.36,340.79 229.12,341.75 229.88,342.54 230.64,343.19 231.40,343.72 232.16,344.16 232.92,344.51 233.68,344.79 234.44,345.02 235.20,345.21 235.97,345.36 236.73,345.49 237.49,345.58 238.25,345.66 239.01,345.73 239.77,345.78 240.53,345.82 241.29,345.86 242.05,345.89 242.81,345.91 243.57,345.93 244.34,345.94 245.10,345.95 245.86,345.96 246.62,345.97 247.38,345.97 248.14,345.98 248.90,345.98" fill="none" stroke="#000" stroke-width="1.8" stroke-linejoin="round"/>
<polyline points="66.30,243.05 67.06,243.05 67.82,243.05 68.58,243.05 69.34,243.05 70.10,243.05 70.87,243.05 71.63,243.05 72.39,243.05 73.15,243.05 73.91,243.05 74.67,243.05 75.43,243.05 76.19,243.05 76.95,243.05 77.71,243.05 78.47,243.05 79.23,243.05 80.00,243.05 80.76,243.05 81.52,243.05 82.28,243.05 83.04,243.05 83.80,243.05 84.56,243.05 85.32,243.05 86.08,243.05 86.84,243.05 87.60,243.05 88.36,243.05 89.12,243.05 89.89,243.05 90.65,243.05 91.41,243.05 92.17,243.05 92.93,243.05 93.69,243.05 94.45,243.05 95.21,243.05 95.97,243.05 96.73,243.05 97.49,243.05 98.25,243.05 99.02,243.05 99.78,243.05 100.54,243.05 101.30,243.05 102.06,243.05 102.82,243.05 103.58,243.05 104.34,243.05 105.10,243.05 105.86,243.05 106.62,243.05 107.38,243.05 108.15,243.05 108.91,243.05 109.67,243.05 110.43,243.05 111.19,243.05 111.95,243.05 112.71,243.05 113.47,243.05 114.23,243.05 114.99,243.05 115.75,243.05 116.52,243.05 117.28,243.05 118.04,243.05 118.80,243.05 119.56,243.05 120.32,243.05 121.08,243.05 121.84,243.05 122.60,243.05 123.36,243.05 124.12,243.05 124.88,243.05 125.65,243.05 126.41,243.05 127.17,243.05 127.93,243.05 128.69,243.05 129.45,243.05 130.21,243.05 130.97,243.05 131.73,243.05 132.49,243.05 133.25,243.05 134.01,243.05 134.78,243.05 135.54,243.05 136.30,243.05 137.06,243.05 137.82,243.05 138.58,243.05 139.34,243.05 140.10,243.05 140.86,243.05 141.62,243.05 142.38,243.05 143.14,243.05 143.91,243.05 144.67,243.05 145.43,243.05 146.19,243.05 146.95,243.05 147.71,243.05 148.47,243.05 149.23,243.05 149.99,243.05 150.75,243.05 151.51,243.05 152.27,243.05 153.04,243.05 153.80,243.05 154.56,243.05 155.32,243.05 156.08,243.05 156.84,243.05 157.60,243.05 158.36,243.05 159.12,243.05 159.88,243.05 160.64,243.05 161.40,243.05 162.17,243.05 162.93,243.05 163.69,243.05 164.45,243.05 165.21,243.05 165.97,243.05 166.73,243.05 167.49,243.05 168.25,243.05 169.01,243.05 169.77,243.05 170.53,243.05 171.30,243.05 172.06,243.05 172.82,243.05 173.58,243.05 174.34,243.05 175.10,243.05 175.86,243.05 176.62,243.05 177.38,243.05 178.14,243.05 178.90,243.05 179.66,243.05 180.43,243.05 181.19,243.05 181.95,243.05 182.71,243.05 183.47,243.05 184.23,243.05 184.99,243.05 185.75,243.06 186.51,243.06 187.27,243.06 188.03,243.06 188.79,243.07 189.56,243.08 190.32,243.08 191.08,243.09 191.84,243.10 192.60,243.12 193.36,243.13 194.12,243.15 194.88,243.18 195.64,243.21 196.40,243.25 197.16,243.30 197.92,243.36 198.69,243.44 199.45,243.53 200.21,243.65 200.97,243.79 201.73,243.97 202.49,244.19 203.25,244.46 204.01,244.79 204.77,245.20 205.53,245.71 206.29,246.33 207.05,247.08 207.81,248.00 208.58,249.12 209.34,250.47 210.10,252.10 210.86,254.03 211.62,256.33 212.38,259.02 213.14,262.14 213.90,265.71 214.66,269.73 215.42,274.20 216.18,279.05 216.94,284.23 217.71,289.64 218.47,295.15 219.23,300.66 219.99,306.02 220.75,311.13 221.51,315.91 222.27,320.27 223.03,324.19 223.79,327.66 224.55,330.68 225.31,333.27 226.08,335.48 226.84,337.35 227.60,338.90 228.36,340.20 229.12,341.27 229.88,342.15 230.64,342.87 231.40,343.46 232.16,343.94 232.92,344.33 233.68,344.65 234.44,344.91 235.20,345.12 235.97,345.29 236.73,345.43 237.49,345.54 238.25,345.63 239.01,345.70 239.77,345.76 240.53,345.80 241.29,345.84 242.05,345.87 242.81,345.90 243.57,345.92 244.34,345.93 245.10,345.95 245.86,345.96 246.62,345.96 247.38,345.97 248.14,345.98 248.90,345.98" fill="none" stroke="#000" stroke-width="1.8" stroke-linejoin="round"/>
<polyline points="300.30,248.46 301.06,248.46 301.82,248.46 302.58,248.46 303.34,248.46 304.10,248.46 304.87,248.46 305.63,248.46 306.39,248.46 307.15,248.46 307.91,248.46 308.67,248.46 309.43,248.46 310.19,248.46 310.95,248.46 311.71,248.46 312.47,248.46 313.23,248.46 314.00,248.46 314.76,248.46 315.52,248.46 316.28,248.46 317.04,248.46 317.80,248.46 318.56,248.46 319.32,248.46 320.08,248.46 320.84,248.46 321.60,248.46 322.36,248.46 323.12,248.46 323.89,248.46 324.65,248.46 325.41,248.46 326.17,248.46 326.93,248.46 327.69,248.46 328.45,248.46 329.21,248.46 329.97,248.46 330.73,248.46 331.49,248.46 332.25,248.46 333.02,248.46 333.78,248.46 334.54,248.46 335.30,248.46 336.06,248.46 336.82,248.46 337.58,248.46 338.34,248.46 339.10,248.46 339.86,248.46 340.62,248.46 341.38,248.46 342.15,248.46 342.91,248.46 343.67,248.46 344.43,248.46 345.19,248.46 345.95,248.46 346.71,248.46 347.47,248.46 348.23,248.46 348.99,248.46 349.75,248.46 350.52,248.46 351.28,248.46 352.04,248.46 352.80,248.46 353.56,248.46 354.32,248.46 355.08,248.46 355.84,248.46 356.60,248.46 357.36,248.46 358.12,248.46 358.88,248.46 359.64,248.46 360.41,248.46 361.17,248.46 361.93,248.46 362.69,248.46 363.45,248.46 364.21,248.46 364.97,248.46 365.73,248.46 366.49,248.46 367.25,248.46 368.01,248.46 368.77,248.46 369.54,248.46 370.30,248.46 371.06,248.46 371.82,248.46 372.58,248.46 373.34,248.46 374.10,248.46 374.86,248.46 375.62,248.46 376.38,248.46 377.14,248.46 377.90,248.46 378.67,248.47 379.43,248.47 380.19,248.47 380.95,248.47 381.71,248.47 382.47,248.47 383.23,248.47 383.99,248.47 384.75,248.47 385.51,248.48 386.27,248.48 387.03,248.48 387.80,248.48 388.56,248.48 389.32,248.49 390.08,248.49 390.84,248.49 391.60,248.50 392.36,248.50 393.12,248.50 393.88,248.51 394.64,248.51 395.40,248.52 396.16,248.53 396.93,248.53 397.69,248.54 398.45,248.55 399.21,248.56 399.97,248.57 400.73,248.58 401.49,248.59 402.25,248.60 403.01,248.62 403.77,248.63 404.53,248.65 405.30,248.67 406.06,248.69 406.82,248.71 407.58,248.73 408.34,248.76 409.10,248.79 409.86,248.82 410.62,248.86 411.38,248.90 412.14,248.94 412.90,248.99 413.66,249.04 414.43,249.10 415.19,249.16 415.95,249.23 416.71,249.31 417.47,249.39 418.23,249.48 418.99,249.58 419.75,249.69 420.51,249.81 421.27,249.95 422.03,250.09 422.79,250.25 423.55,250.42 424.32,250.61 425.08,250.82 425.84,251.05 426.60,251.29 427.36,251.56 428.12,251.86 428.88,252.18 429.64,252.54 430.40,252.92 431.16,253.34 431.92,253.79 432.68,254.29 433.45,254.83 434.21,255.41 434.97,256.05 435.73,256.73 436.49,257.48 437.25,258.28 438.01,259.14 438.77,260.08 439.53,261.08 440.29,262.15 441.05,263.30 441.81,264.53 442.58,265.85 443.34,267.24 444.10,268.72 444.86,270.28 445.62,271.93 446.38,273.67 447.14,275.48 447.90,277.38 448.66,279.36 449.42,281.41 450.18,283.53 450.94,285.70 451.71,287.93 452.47,290.21 453.23,292.53 453.99,294.87 454.75,297.22 455.51,299.59 456.27,301.95 457.03,304.30 457.79,306.62 458.55,308.91 459.31,311.16 460.07,313.35 460.84,315.49 461.60,317.56 462.36,319.56 463.12,321.48 463.88,323.33 464.64,325.09 465.40,326.77 466.16,328.36 466.92,329.86 467.68,331.28 468.44,332.62 469.20,333.88 469.97,335.05 470.73,336.15 471.49,337.17 472.25,338.13 473.01,339.01 473.77,339.84 474.53,340.60 475.29,341.30 476.05,341.95 476.81,342.55 477.57,343.10 478.34,343.61 479.10,344.08 479.86,344.51 480.62,344.90 481.38,345.27 482.14,345.60 482.90,345.90" fill="none" stroke="#000" stroke-width="2.2" stroke-linejoin="round"/>
<polyline points="300.30,249.47 301.06,249.47 301.82,249.47 302.58,249.47 303.34,249.47 304.10,249.47 304.87,249.47 305.63,249.47 306.39,249.47 307.15,249.47 307.91,249.47 308.67,249.47 309.43,249.47 310.19,249.47 310.95,249.47 311.71,249.47 312.47,249.47 313.23,249.47 314.00,249.47 314.76,249.47 315.52,249.47 316.28,249.47 317.04,249.47 317.80,249.47 318.56,249.47 319.32,249.47 320.08,249.47 320.84,249.47 321.60,249.47 322.36,249.47 323.12,249.47 323.89,249.47 324.65,249.47 325.41,249.47 326.17,249.47 326.93,249.47 327.69,249.47 328.45,249.47 329.21,249.47 329.97,249.47 330.73,249.47 331.49,249.47 332.25,249.47 333.02,249.47 333.78,249.47 334.54,249.47 335.30,249.47 336.06,249.47 336.82,249.47 337.58,249.47 338.34,249.47 339.10,249.47 339.86,249.47 340.62,249.47 341.38,249.47 342.15,249.47 342.91,249.47 343.67,249.47 344.43,249.47 345.19,249.47 345.95,249.47 346.71,249.47 347.47,249.47 348.23,249.47 348.99,249.47 349.75,249.47 350.52,249.47 351.28,249.47 352.04,249.47 352.80,249.47 353.56,249.47 354.32,249.47 355.08,249.47 355.84,249.47 356.60,249.47 357.36,249.47 358.12,249.47 358.88,249.47 359.64,249.47 360.41,249.47 361.17,249.47 361.93,249.47 362.69,249.47 363.45,249.47 364.21,249.47 364.97,249.47 365.73,249.47 366.49,249.47 367.25,249.47 368.01,249.47 368.77,249.47 369.54,249.47 370.30,249.47 371.06,249.47 371.82,249.47 372.58,249.47 373.34,249.47 374.10,249.47 374.86,249.47 375.62,249.47 376.38,249.47 377.14,249.47 377.90,249.47 378.67,249.47 379.43,249.48 380.19,249.48 380.95,249.48 381.71,249.48 382.47,249.48 383.23,249.48 383.99,249.48 384.75,249.48 385.51,249.48 386.27,249.48 387.03,249.48 387.80,249.49 388.56,249.49 389.32,249.49 390.08,249.49 390.84,249.49 391.60,249.50 392.36,249.50 393.12,249.50 393.88,249.50 394.64,249.51 395.40,249.51 396.16,249.52 396.93,249.52 397.69,249.53 398.45,249.53 399.21,249.54 399.97,249.55 400.73,249.55 401.49,249.56 402.25,249.57 403.01,249.58 403.77,249.59 404.53,249.61 405.30,249.62 406.06,249.64 406.82,249.65 407.58,249.67 408.34,249.69 409.10,249.71 409.86,249.74 410.62,249.77 411.38,249.80 412.14,249.83 412.90,249.87 413.66,249.91 414.43,249.95 415.19,250.00 415.95,250.06 416.71,250.12 417.47,250.18 418.23,250.25 418.99,250.33 419.75,250.42 420.51,250.52 421.27,250.62 422.03,250.74 422.79,250.87 423.55,251.01 424.32,251.16 425.08,251.33 425.84,251.52 426.60,251.72 427.36,251.95 428.12,252.19 428.88,252.46 429.64,252.76 430.40,253.08 431.16,253.44 431.92,253.82 432.68,254.25 433.45,254.71 434.21,255.22 434.97,255.77 435.73,256.37 436.49,257.02 437.25,257.73 438.01,258.49 438.77,259.33 439.53,260.23 440.29,261.20 441.05,262.24 441.81,263.37 442.58,264.57 443.34,265.86 444.10,267.24 444.86,268.71 445.62,270.26 446.38,271.91 447.14,273.65 447.90,275.48 448.66,277.39 449.42,279.39 450.18,281.47 450.94,283.62 451.71,285.84 452.47,288.11 453.23,290.44 453.99,292.81 454.75,295.21 455.51,297.62 456.27,300.05 457.03,302.47 457.79,304.87 458.55,307.25 459.31,309.60 460.07,311.89 460.84,314.14 461.60,316.31 462.36,318.42 463.12,320.45 463.88,322.39 464.64,324.25 465.40,326.02 466.16,327.70 466.92,329.30 467.68,330.80 468.44,332.21 469.20,333.53 469.97,334.77 470.73,335.92 471.49,336.99 472.25,337.99 473.01,338.92 473.77,339.77 474.53,340.57 475.29,341.29 476.05,341.97 476.81,342.59 477.57,343.15 478.34,343.68 479.10,344.15 479.86,344.59 480.62,344.99 481.38,345.36 482.14,345.70 482.90,346.00" fill="none" stroke="#000" stroke-width="2.2" stroke-linejoin="round"/>
<polyline points="300.30,249.27 301.06,249.27 301.82,249.27 302.58,249.27 303.34,249.27 304.10,249.27 304.87,249.27 305.63,249.27 306.39,249.27 307.15,249.27 307.91,249.27 308.67,249.27 309.43,249.27 310.19,249.27 310.95,249.27 311.71,249.27 312.47,249.27 313.23,249.27 314.00,249.27 314.76,249.27 315.52,249.27 316.28,249.27 317.04,249.27 317.80,249.27 318.56,249.27 319.32,249.27 320.08,249.27 320.84,249.27 321.60,249.27 322.36,249.27 323.12,249.27 323.89,249.27 324.65,249.27 325.41,249.27 326.17,249.27 326.93,249.27 327.69,249.27 328.45,249.27 329.21,249.27 329.97,249.27 330.73,249.27 331.49,249.27 332.25,249.27 333.02,249.27 333.78,249.27 334.54,249.27 335.30,249.27 336.06,249.27 336.82,249.27 337.58,249.27 338.34,249.27 339.10,249.27 339.86,249.27 340.62,249.27 341.38,249.27 342.15,249.27 342.91,249.27 343.67,249.27 344.43,249.27 345.19,249.27 345.95,249.27 346.71,249.27 347.47,249.27 348.23,249.27 348.99,249.27 349.75,249.27 350.52,249.27 351.28,249.27 352.04,249.27 352.80,249.27 353.56,249.27 354.32,249.27 355.08,249.27 355.84,249.27 356.60,249.27 357.36,249.27 358.12,249.27 358.88,249.27 359.64,249.27 360.41,249.27 361.17,249.27 361.93,249.27 362.69,249.27 363.45,249.27 364.21,249.27 364.97,249.27 365.73,249.27 366.49,249.27 367.25,249.27 368.01,249.27 368.77,249.27 369.54,249.27 370.30,249.27 371.06,249.27 371.82,249.27 372.58,249.27 373.34,249.27 374.10,249.27 374.86,249.27 375.62,249.27 376.38,249.27 377.14,249.27 377.90,249.27 378.67,249.27 379.43,249.27 380.19,249.27 380.95,249.27 381.71,249.27 382.47,249.27 383.23,249.27 383.99,249.27 384.75,249.27 385.51,249.27 386.27,249.27 387.03,249.27 387.80,249.27 388.56,249.27 389.32,249.27 390.08,249.27 390.84,249.27 391.60,249.27 392.36,249.27 393.12,249.27 393.88,249.27 394.64,249.27 395.40,249.27 396.16,249.27 396.93,249.27 397.69,249.27 398.45,249.27 399.21,249.27 399.97,249.27 400.73,249.27 401.49,249.27 402.25,249.28 403.01,249.28 403.77,249.28 404.53,249.28 405.30,249.28 406.06,249.28 406.82,249.29 407.58,249.29 408.34,249.29 409.10,249.29 409.86,249.30 410.62,249.30 411.38,249.31 412.14,249.31 412.90,249.32 413.66,249.33 414.43,249.33 415.19,249.34 415.95,249.35 416.71,249.36 417.47,249.38 418.23,249.39 418.99,249.41 419.75,249.43 420.51,249.45 421.27,249.47 422.03,249.50 422.79,249.53 423.55,249.57 424.32,249.61 425.08,249.66 425.84,249.71 426.60,249.77 427.36,249.84 428.12,249.92 428.88,250.00 429.64,250.10 430.40,250.21 431.16,250.34 431.92,250.49 432.68,250.65 433.45,250.84 434.21,251.04 434.97,251.28 435.73,251.55 436.49,251.85 437.25,252.19 438.01,252.58 438.77,253.01 439.53,253.50 440.29,254.05 441.05,254.67 441.81,255.36 442.58,256.13 443.34,256.99 444.10,257.95 444.86,259.01 445.62,260.19 446.38,261.50 447.14,262.94 447.90,264.51 448.66,266.24 449.42,268.11 450.18,270.14 450.94,272.32 451.71,274.66 452.47,277.15 453.23,279.79 453.99,282.56 454.75,285.44 455.51,288.44 456.27,291.51 457.03,294.65 457.79,297.82 458.55,301.00 459.31,304.17 460.07,307.30 460.84,310.36 461.60,313.34 462.36,316.22 463.12,318.97 463.88,321.58 464.64,324.05 465.40,326.37 466.16,328.53 466.92,330.54 467.68,332.39 468.44,334.09 469.20,335.64 469.97,337.06 470.73,338.35 471.49,339.51 472.25,340.56 473.01,341.51 473.77,342.36 474.53,343.12 475.29,343.79 476.05,344.40 476.81,344.94 477.57,345.42 478.34,345.85 479.10,346.22 479.86,346.56 480.62,346.86 481.38,347.12 482.14,347.35 482.90,347.56" fill="none" stroke="#000" stroke-width="2.2" stroke-linejoin="round"/>
<rect x="122.44" y="44.42" width="4.6" height="4.6" fill="#000"/>
<rect x="123.09" y="49.43" width="3.30" height="3.30" fill="#fff" stroke="#000" stroke-width="1.3"/>
<circle cx="124.74" cy="51.08" r="2.5" fill="#000"/>
<rect x="134.88" y="46.25" width="4.6" height="4.6" fill="#000"/>
<rect x="135.53" y="55.52" width="3.30" height="3.30" fill="#fff" stroke="#000" stroke-width="1.3"/>
<circle cx="137.18" cy="51.08" r="2.5" fill="#000"/>
<rect x="146.79" y="49.29" width="4.6" height="4.6" fill="#000"/>
<rect x="147.44" y="49.43" width="3.30" height="3.30" fill="#fff" stroke="#000" stroke-width="1.3"/>
<circle cx="149.09" cy="49.66" r="2.5" fill="#000"/>
<rect x="159.48" y="49.80" width="4.6" height="4.6" fill="#000"/>
<rect x="160.13" y="49.43" width="3.30" height="3.30" fill="#fff" stroke="#000" stroke-width="1.3"/>
<circle cx="161.78" cy="51.59" r="2.5" fill="#000"/>
<rect x="171.65" y="49.80" width="4.6" height="4.6" fill="#000"/>
<rect x="172.30" y="49.94" width="3.30" height="3.30" fill="#fff" stroke="#000" stroke-width="1.3"/>
<circle cx="173.95" cy="51.29" r="2.5" fill="#000"/>
<rect x="183.83" y="53.14" width="4.6" height="4.6" fill="#000"/>
<rect x="184.48" y="48.42" width="3.30" height="3.30" fill="#fff" stroke="#000" stroke-width="1.3"/>
<circle cx="186.13" cy="52.60" r="2.5" fill="#000"/>
<rect x="196.52" y="53.85" width="4.6" height="4.6" fill="#000"/>
<rect x="197.17" y="62.62" width="3.30" height="3.30" fill="#fff" stroke="#000" stroke-width="1.3"/>
<circle cx="198.82" cy="57.17" r="2.5" fill="#000"/>
<rect x="208.69" y="81.24" width="4.6" height="4.6" fill="#000"/>
<rect x="209.34" y="70.73" width="3.30" height="3.30" fill="#fff" stroke="#000" stroke-width="1.3"/>
<circle cx="210.99" cy="72.38" r="2.5" fill="#000"/>
<rect x="221.12" y="96.45" width="4.6" height="4.6" fill="#000"/>
<rect x="221.77" y="90.20" width="3.30" height="3.30" fill="#fff" stroke="#000" stroke-width="1.3"/>
<circle cx="223.42" cy="101.79" r="2.5" fill="#000"/>
<rect x="233.95" y="145.78" width="3.30" height="3.30" fill="#fff" stroke="#000" stroke-width="1.3"/>
<rect x="233.30" y="145.13" width="4.6" height="4.6" fill="#000"/>
<circle cx="235.60" cy="138.30" r="2.5" fill="#000"/>
<rect x="245.73" y="146.14" width="4.6" height="4.6" fill="#000"/>
<rect x="246.38" y="146.29" width="3.30" height="3.30" fill="#fff" stroke="#000" stroke-width="1.3"/>
<circle cx="248.03" cy="147.43" r="2.5" fill="#000"/>
<rect x="354.68" y="48.10" width="4.6" height="4.6" fill="#000"/>
<rect x="355.33" y="48.75" width="3.30" height="3.30" fill="#fff" stroke="#000" stroke-width="1.3"/>
<circle cx="356.98" cy="49.89" r="2.5" fill="#000"/>
<rect x="367.99" y="48.10" width="4.6" height="4.6" fill="#000"/>
<rect x="368.64" y="53.88" width="3.30" height="3.30" fill="#fff" stroke="#000" stroke-width="1.3"/>
<circle cx="370.29" cy="42.41" r="2.5" fill="#000"/>
<rect x="380.25" y="47.08" width="4.6" height="4.6" fill="#000"/>
<rect x="380.90" y="49.78" width="3.30" height="3.30" fill="#fff" stroke="#000" stroke-width="1.3"/>
<circle cx="382.55" cy="47.33" r="2.5" fill="#000"/>
<rect x="391.74" y="43.49" width="4.6" height="4.6" fill="#000"/>
<rect x="392.39" y="50.29" width="3.30" height="3.30" fill="#fff" stroke="#000" stroke-width="1.3"/>
<circle cx="394.04" cy="50.40" r="2.5" fill="#000"/>
<rect x="404.00" y="47.59" width="4.6" height="4.6" fill="#000"/>
<rect x="404.66" y="49.78" width="3.30" height="3.30" fill="#fff" stroke="#000" stroke-width="1.3"/>
<circle cx="406.31" cy="50.40" r="2.5" fill="#000"/>
<rect x="416.53" y="53.74" width="4.6" height="4.6" fill="#000"/>
<rect x="417.18" y="57.46" width="3.30" height="3.30" fill="#fff" stroke="#000" stroke-width="1.3"/>
<circle cx="418.83" cy="51.43" r="2.5" fill="#000"/>
<rect x="428.80" y="62.45" width="4.6" height="4.6" fill="#000"/>
<rect x="429.45" y="59.00" width="3.30" height="3.30" fill="#fff" stroke="#000" stroke-width="1.3"/>
<circle cx="431.10" cy="62.70" r="2.5" fill="#000"/>
<rect x="441.59" y="64.50" width="4.6" height="4.6" fill="#000"/>
<rect x="442.24" y="71.30" width="3.30" height="3.30" fill="#fff" stroke="#000" stroke-width="1.3"/>
<circle cx="443.89" cy="73.98" r="2.5" fill="#000"/>
<rect x="454.77" y="100.00" width="3.30" height="3.30" fill="#fff" stroke="#000" stroke-width="1.3"/>
<rect x="454.12" y="99.35" width="4.6" height="4.6" fill="#000"/>
<circle cx="456.42" cy="99.60" r="2.5" fill="#000"/>
<rect x="456.86" y="117.02" width="3.30" height="3.30" fill="#fff" stroke="#000" stroke-width="1.3"/>
<rect x="469.12" y="133.52" width="3.30" height="3.30" fill="#fff" stroke="#000" stroke-width="1.3"/>
<rect x="468.47" y="132.87" width="4.6" height="4.6" fill="#000"/>
<circle cx="470.77" cy="135.17" r="2.5" fill="#000"/>
<rect x="480.35" y="147.15" width="3.30" height="3.30" fill="#fff" stroke="#000" stroke-width="1.3"/>
<rect x="479.69" y="146.50" width="4.6" height="4.6" fill="#000"/>
<circle cx="482.00" cy="148.80" r="2.5" fill="#000"/>
<rect x="120.61" y="239.83" width="4.6" height="4.6" fill="#000"/>
<rect x="121.26" y="247.58" width="3.30" height="3.30" fill="#fff" stroke="#000" stroke-width="1.3"/>
<circle cx="122.91" cy="243.65" r="2.5" fill="#000"/>
<rect x="133.13" y="242.37" width="4.6" height="4.6" fill="#000"/>
<rect x="133.78" y="247.27" width="3.30" height="3.30" fill="#fff" stroke="#000" stroke-width="1.3"/>
<path d="M135.43,237.31L138.23,240.11L135.43,242.91L132.63,240.11Z" fill="#000"/>
<rect x="145.65" y="241.86" width="4.6" height="4.6" fill="#000"/>
<rect x="146.30" y="248.49" width="3.30" height="3.30" fill="#fff" stroke="#000" stroke-width="1.3"/>
<circle cx="147.95" cy="243.65" r="2.5" fill="#000"/>
<rect x="157.65" y="249.16" width="4.6" height="4.6" fill="#000"/>
<rect x="158.30" y="238.96" width="3.30" height="3.30" fill="#fff" stroke="#000" stroke-width="1.3"/>
<circle cx="159.95" cy="245.68" r="2.5" fill="#000"/>
<rect x="169.91" y="243.38" width="4.6" height="4.6" fill="#000"/>
<rect x="170.56" y="247.58" width="3.30" height="3.30" fill="#fff" stroke="#000" stroke-width="1.3"/>
<circle cx="172.21" cy="244.67" r="2.5" fill="#000"/>
<rect x="182.69" y="239.33" width="4.6" height="4.6" fill="#000"/>
<rect x="183.34" y="246.06" width="3.30" height="3.30" fill="#fff" stroke="#000" stroke-width="1.3"/>
<circle cx="184.99" cy="243.65" r="2.5" fill="#000"/>
<rect x="195.21" y="245.41" width="4.6" height="4.6" fill="#000"/>
<rect x="195.86" y="243.02" width="3.30" height="3.30" fill="#fff" stroke="#000" stroke-width="1.3"/>
<circle cx="197.51" cy="241.32" r="2.5" fill="#000"/>
<rect x="208.38" y="251.12" width="3.30" height="3.30" fill="#fff" stroke="#000" stroke-width="1.3"/>
<rect x="207.73" y="250.98" width="4.6" height="4.6" fill="#000"/>
<circle cx="210.03" cy="263.92" r="2.5" fill="#000"/>
<rect x="220.64" y="325.10" width="3.30" height="3.30" fill="#fff" stroke="#000" stroke-width="1.3"/>
<rect x="219.99" y="324.45" width="4.6" height="4.6" fill="#000"/>
<circle cx="222.29" cy="321.68" r="2.5" fill="#000"/>
<rect x="232.77" y="336.91" width="4.6" height="4.6" fill="#000"/>
<circle cx="356.65" cy="247.85" r="3" fill="#000"/>
<rect x="355.00" y="245.69" width="3.30" height="3.30" fill="#fff" stroke="#000" stroke-width="1.3"/>
<path d="M356.65,245.05L359.45,247.85L356.65,250.65L353.85,247.85Z" fill="#000"/>
<circle cx="369.17" cy="249.88" r="3" fill="#000"/>
<rect x="367.52" y="247.21" width="3.30" height="3.30" fill="#fff" stroke="#000" stroke-width="1.3"/>
<path d="M369.17,246.57L371.97,249.37L369.17,252.17L366.37,249.37Z" fill="#000"/>
<circle cx="381.69" cy="248.86" r="3" fill="#000"/>
<rect x="380.04" y="250.25" width="3.30" height="3.30" fill="#fff" stroke="#000" stroke-width="1.3"/>
<path d="M381.69,245.05L384.49,247.85L381.69,250.65L378.89,247.85Z" fill="#000"/>
<circle cx="394.21" cy="248.36" r="3" fill="#000"/>
<rect x="392.56" y="247.21" width="3.30" height="3.30" fill="#fff" stroke="#000" stroke-width="1.3"/>
<path d="M394.21,246.06L397.01,248.86L394.21,251.66L391.41,248.86Z" fill="#000"/>
<circle cx="406.47" cy="246.84" r="3" fill="#000"/>
<rect x="404.82" y="246.20" width="3.30" height="3.30" fill="#fff" stroke="#000" stroke-width="1.3"/>
<path d="M406.47,245.05L409.27,247.85L406.47,250.65L403.67,247.85Z" fill="#000"/>
<circle cx="418.99" cy="247.85" r="3" fill="#000"/>
<rect x="417.34" y="241.14" width="3.30" height="3.30" fill="#fff" stroke="#000" stroke-width="1.3"/>
<path d="M418.99,246.06L421.79,248.86L418.99,251.66L416.19,248.86Z" fill="#000"/>
<circle cx="431.77" cy="246.84" r="3" fill="#000"/>
<rect x="430.12" y="252.58" width="3.30" height="3.30" fill="#fff" stroke="#000" stroke-width="1.3"/>
<path d="M431.77,247.07L434.57,249.88L431.77,252.68L428.97,249.88Z" fill="#000"/>
<circle cx="444.55" cy="271.14" r="3" fill="#000"/>
<rect x="442.90" y="266.45" width="3.30" height="3.30" fill="#fff" stroke="#000" stroke-width="1.3"/>
<path d="M444.55,267.32L447.35,270.12L444.55,272.93L441.75,270.12Z" fill="#000"/>
<circle cx="456.81" cy="289.56" r="3" fill="#000"/>
<rect x="455.16" y="278.20" width="3.30" height="3.30" fill="#fff" stroke="#000" stroke-width="1.3"/>
<path d="M456.81,295.68L459.61,298.48L456.81,301.28L454.01,298.48Z" fill="#000"/>
<circle cx="468.81" cy="336.95" r="3" fill="#000"/>
<rect x="467.16" y="336.41" width="3.30" height="3.30" fill="#fff" stroke="#000" stroke-width="1.3"/>
<path d="M468.81,331.11L471.61,333.91L468.81,336.71L466.01,333.91Z" fill="#000"/>
<circle cx="481.60" cy="345.05" r="3" fill="#000"/>
<rect x="479.95" y="344.41" width="3.30" height="3.30" fill="#fff" stroke="#000" stroke-width="1.3"/>
<path d="M481.60,342.25L484.40,345.05L481.60,347.85L478.80,345.05Z" fill="#000"/>
<rect x="129.00" y="91.80" width="4.6" height="4.6" fill="#000"/>
<text x="142.16" y="97" font-size="10.4" textLength="21.05" lengthAdjust="spacingAndGlyphs" fill="#6a6a6a">Exp1</text>
<rect x="129.65" y="106.15" width="3.30" height="3.30" fill="#fff" stroke="#000" stroke-width="1.3"/>
<text x="142.16" y="110.7" font-size="10.4" textLength="21.1" lengthAdjust="spacingAndGlyphs" fill="#6a6a6a">Exp2</text>
<circle cx="131.30" cy="121.50" r="2.5" fill="#000"/>
<text x="142.16" y="124.4" font-size="10.4" textLength="21" lengthAdjust="spacingAndGlyphs" fill="#6a6a6a">Exp3</text>
<rect x="353.70" y="85.60" width="4.6" height="4.6" fill="#000"/>
<text x="366.55" y="90.8" font-size="10.4" textLength="21.37" lengthAdjust="spacingAndGlyphs" fill="#333">Exp1</text>
<rect x="354.35" y="100.00" width="3.30" height="3.30" fill="#fff" stroke="#000" stroke-width="1.3"/>
<text x="366.55" y="104.55" font-size="10.4" textLength="21.42" lengthAdjust="spacingAndGlyphs" fill="#333">Exp2</text>
<circle cx="356.00" cy="115.40" r="2.5" fill="#000"/>
<text x="366.55" y="118.3" font-size="10.4" textLength="21.32" lengthAdjust="spacingAndGlyphs" fill="#333">Exp3</text>
<rect x="121.30" y="282.40" width="4.6" height="4.6" fill="#000"/>
<text x="135.06" y="287.9" font-size="10.4" textLength="21.05" lengthAdjust="spacingAndGlyphs" fill="#333">Exp1</text>
<rect x="121.95" y="297.00" width="3.30" height="3.30" fill="#fff" stroke="#000" stroke-width="1.3"/>
<text x="135.06" y="301.85" font-size="10.4" textLength="21.1" lengthAdjust="spacingAndGlyphs" fill="#333">Exp2</text>
<circle cx="123.60" cy="312.60" r="2.5" fill="#000"/>
<text x="135.06" y="315.8" font-size="10.4" textLength="21" lengthAdjust="spacingAndGlyphs" fill="#333">Exp3</text>
<circle cx="361.50" cy="283.30" r="3" fill="#000"/>
<text x="373.08" y="286.2" font-size="10.4" textLength="20.41" lengthAdjust="spacingAndGlyphs" fill="#333">Exp1</text>
<rect x="359.85" y="295.50" width="3.30" height="3.30" fill="#fff" stroke="#000" stroke-width="1.3"/>
<text x="373.08" y="300.05" font-size="10.4" textLength="20.46" lengthAdjust="spacingAndGlyphs" fill="#333">Exp2</text>
<path d="M361.50,308.20L364.30,311.00L361.50,313.80L358.70,311.00Z" fill="#000"/>
<text x="373.09" y="313.9" font-size="10.4" textLength="20.37" lengthAdjust="spacingAndGlyphs" fill="#333">Exp3</text>
<text x="3.71" y="412" font-size="20.3" textLength="14.33" lengthAdjust="spacingAndGlyphs" fill="#000" font-weight="bold">B</text>
<line x1="81.5" y1="429.5" x2="81.5" y2="595.5" stroke="#808080" stroke-width="1.1"/>
<line x1="81.5" y1="595.5" x2="270.2" y2="595.5" stroke="#808080" stroke-width="1.1"/>
<line x1="81.5" y1="430.00" x2="84.1" y2="430.00" stroke="#808080" stroke-width="1.1"/>
<text x="39.7" y="435.15" font-size="15.6" textLength="34.14" lengthAdjust="spacingAndGlyphs" fill="#111">0.30</text>
<line x1="81.5" y1="457.58" x2="84.1" y2="457.58" stroke="#808080" stroke-width="1.1"/>
<text x="39.7" y="462.12" font-size="15.6" textLength="34.23" lengthAdjust="spacingAndGlyphs" fill="#111">0.25</text>
<line x1="81.5" y1="485.17" x2="84.1" y2="485.17" stroke="#808080" stroke-width="1.1"/>
<text x="39.7" y="489.09" font-size="15.6" textLength="34.14" lengthAdjust="spacingAndGlyphs" fill="#111">0.20</text>
<line x1="81.5" y1="512.75" x2="84.1" y2="512.75" stroke="#808080" stroke-width="1.1"/>
<text x="39.7" y="516.06" font-size="15.6" textLength="34.23" lengthAdjust="spacingAndGlyphs" fill="#111">0.15</text>
<line x1="81.5" y1="540.33" x2="84.1" y2="540.33" stroke="#808080" stroke-width="1.1"/>
<text x="39.7" y="543.03" font-size="15.6" textLength="34.14" lengthAdjust="spacingAndGlyphs" fill="#111">0.10</text>
<line x1="81.5" y1="567.92" x2="84.1" y2="567.92" stroke="#808080" stroke-width="1.1"/>
<text x="39.7" y="570" font-size="15.6" textLength="34.23" lengthAdjust="spacingAndGlyphs" fill="#111">0.05</text>
<line x1="81.5" y1="595.50" x2="84.1" y2="595.50" stroke="#808080" stroke-width="1.1"/>
<text x="39.7" y="596.97" font-size="15.6" textLength="34.14" lengthAdjust="spacingAndGlyphs" fill="#111">0.00</text>
<line x1="128.2" y1="592.1" x2="128.2" y2="595.5" stroke="#808080" stroke-width="1.1"/>
<line x1="175.5" y1="592.1" x2="175.5" y2="595.5" stroke="#808080" stroke-width="1.1"/>
<line x1="222.9" y1="592.1" x2="222.9" y2="595.5" stroke="#808080" stroke-width="1.1"/>
<line x1="269.7" y1="592.1" x2="269.7" y2="595.5" stroke="#808080" stroke-width="1.1"/>
<line x1="104.80" y1="559.2" x2="104.80" y2="564.6" stroke="#333" stroke-width="1.5"/>
<line x1="102.10" y1="559.8000000000001" x2="107.50" y2="559.8000000000001" stroke="#333" stroke-width="1.4"/>
<rect x="95.60000000000001" y="565.0" width="18.40" height="30.50" fill="#333" stroke="#111" stroke-width="0.8"/>
<line x1="151.70" y1="563.5" x2="151.70" y2="570" stroke="#333" stroke-width="1.5"/>
<line x1="149.00" y1="564.1" x2="154.40" y2="564.1" stroke="#333" stroke-width="1.4"/>
<rect x="142.3" y="570.4" width="18.80" height="25.10" fill="#333" stroke="#111" stroke-width="0.8"/>
<line x1="198.80" y1="512.2" x2="198.80" y2="522.9" stroke="#333" stroke-width="1.5"/>
<line x1="196.10" y1="512.8000000000001" x2="201.50" y2="512.8000000000001" stroke="#333" stroke-width="1.4"/>
<rect x="189.4" y="523.3" width="18.80" height="72.20" fill="#333" stroke="#111" stroke-width="0.8"/>
<line x1="246.00" y1="441.8" x2="246.00" y2="458" stroke="#333" stroke-width="1.5"/>
<line x1="243.30" y1="442.40000000000003" x2="248.70" y2="442.40000000000003" stroke="#333" stroke-width="1.4"/>
<rect x="236.6" y="458.4" width="18.80" height="137.10" fill="#333" stroke="#111" stroke-width="0.8"/>
<text transform="translate(32.2,529) rotate(-90)" x="-0" y="0" font-size="16" textLength="62.49" lengthAdjust="spacingAndGlyphs" fill="#111">Abs 450</text>
<line x1="322.7" y1="438.9" x2="322.7" y2="598.5" stroke="#808080" stroke-width="1.1"/>
<line x1="322.7" y1="598.5" x2="519.5" y2="598.5" stroke="#808080" stroke-width="1.1"/>
<line x1="322.7" y1="439.40" x2="325.7" y2="439.40" stroke="#808080" stroke-width="1.1"/>
<text x="302.05" y="445.4" font-size="15" textLength="17.44" lengthAdjust="spacingAndGlyphs" fill="#111">30</text>
<line x1="322.7" y1="465.92" x2="325.7" y2="465.92" stroke="#808080" stroke-width="1.1"/>
<text x="302.13" y="471.92" font-size="15" textLength="17.44" lengthAdjust="spacingAndGlyphs" fill="#111">25</text>
<line x1="322.7" y1="492.43" x2="325.7" y2="492.43" stroke="#808080" stroke-width="1.1"/>
<text x="302.05" y="498.43" font-size="15" textLength="17.44" lengthAdjust="spacingAndGlyphs" fill="#111">20</text>
<line x1="322.7" y1="518.95" x2="325.7" y2="518.95" stroke="#808080" stroke-width="1.1"/>
<text x="302.13" y="524.95" font-size="15" textLength="17.44" lengthAdjust="spacingAndGlyphs" fill="#111">15</text>
<line x1="322.7" y1="545.47" x2="325.7" y2="545.47" stroke="#808080" stroke-width="1.1"/>
<text x="302.05" y="551.47" font-size="15" textLength="17.44" lengthAdjust="spacingAndGlyphs" fill="#111">10</text>
<line x1="322.7" y1="571.98" x2="325.7" y2="571.98" stroke="#808080" stroke-width="1.1"/>
<text x="310.83" y="577.98" font-size="15" textLength="8.72" lengthAdjust="spacingAndGlyphs" fill="#111">5</text>
<line x1="322.7" y1="598.50" x2="325.7" y2="598.50" stroke="#808080" stroke-width="1.1"/>
<text x="310.75" y="604.5" font-size="15" textLength="8.72" lengthAdjust="spacingAndGlyphs" fill="#111">0</text>
<line x1="372" y1="595.1" x2="372" y2="598.5" stroke="#808080" stroke-width="1.1"/>
<line x1="421.4" y1="595.1" x2="421.4" y2="598.5" stroke="#808080" stroke-width="1.1"/>
<line x1="470.5" y1="595.1" x2="470.5" y2="598.5" stroke="#808080" stroke-width="1.1"/>
<line x1="519.2" y1="595.1" x2="519.2" y2="598.5" stroke="#808080" stroke-width="1.1"/>
<line x1="347.20" y1="470.8" x2="347.20" y2="481.9" stroke="#333" stroke-width="1.5"/>
<line x1="344.70" y1="471.40000000000003" x2="349.70" y2="471.40000000000003" stroke="#333" stroke-width="1.4"/>
<rect x="337.29999999999995" y="482.29999999999995" width="19.80" height="116.20" fill="#333" stroke="#111" stroke-width="0.8"/>
<line x1="396.40" y1="447.3" x2="396.40" y2="460.2" stroke="#333" stroke-width="1.5"/>
<line x1="393.90" y1="447.90000000000003" x2="398.90" y2="447.90000000000003" stroke="#333" stroke-width="1.4"/>
<rect x="386.7" y="460.59999999999997" width="19.40" height="137.90" fill="#333" stroke="#111" stroke-width="0.8"/>
<line x1="445.70" y1="526.9" x2="445.70" y2="534.6" stroke="#333" stroke-width="1.5"/>
<line x1="443.20" y1="527.5" x2="448.20" y2="527.5" stroke="#333" stroke-width="1.4"/>
<rect x="435.79999999999995" y="535.0" width="19.80" height="63.50" fill="#333" stroke="#111" stroke-width="0.8"/>
<line x1="495.00" y1="566" x2="495.00" y2="569.6" stroke="#333" stroke-width="1.5"/>
<line x1="492.50" y1="566.6" x2="497.50" y2="566.6" stroke="#333" stroke-width="1.4"/>
<rect x="485.4" y="570.0" width="19.20" height="28.50" fill="#333" stroke="#111" stroke-width="0.8"/>
<text transform="translate(295.8,579.8) rotate(-90)" x="-1.26" y="0" font-size="15.9" textLength="128.37" lengthAdjust="spacingAndGlyphs" fill="#111">PI(3,4,5)P3 (pmol)</text>
<text x="24.06" y="614.6" font-size="14.7" textLength="46.41" lengthAdjust="spacingAndGlyphs" fill="#111">DMSO</text>
<text x="50.87" y="636.1" font-size="14.7" textLength="17.1" lengthAdjust="spacingAndGlyphs" fill="#111">S1</text>
<text x="49" y="655.8" font-size="14.7" textLength="20.18" lengthAdjust="spacingAndGlyphs" fill="#111">LY</text>
<text x="33.63" y="676.2" font-size="14.7" textLength="33.9" lengthAdjust="spacingAndGlyphs" fill="#111">IGF1</text>
<text x="268.34" y="618" font-size="14.7" textLength="47.35" lengthAdjust="spacingAndGlyphs" fill="#111">DMSO</text>
<text x="297.29" y="639.6" font-size="14.7" textLength="16.67" lengthAdjust="spacingAndGlyphs" fill="#111">S1</text>
<text x="296.35" y="659.3" font-size="14.7" textLength="19.35" lengthAdjust="spacingAndGlyphs" fill="#111">LY</text>
<text x="282" y="680" font-size="14.7" textLength="32.19" lengthAdjust="spacingAndGlyphs" fill="#111">IGF1</text>
<path d="M100.60,612.40H111.00M105.80,607.40V617.40" stroke="#111" stroke-width="2"/>
<path d="M343.80,615.60H354.20M349.00,610.60V620.60" stroke="#111" stroke-width="2"/>
<path d="M147.20,612.40H157.60M152.40,607.40V617.40" stroke="#111" stroke-width="2"/>
<path d="M390.60,615.60H401.00M395.80,610.60V620.60" stroke="#111" stroke-width="2"/>
<path d="M195.50,609.60H201.50" stroke="#111" stroke-width="2.3"/>
<path d="M441.20,612.80H447.20" stroke="#111" stroke-width="2.3"/>
<path d="M243.60,609.60H249.60" stroke="#111" stroke-width="2.3"/>
<path d="M489.00,612.80H495.00" stroke="#111" stroke-width="2.3"/>
<path d="M102.80,629.80H108.80" stroke="#111" stroke-width="2.3"/>
<path d="M346.00,632.90H352.00" stroke="#111" stroke-width="2.3"/>
<path d="M149.40,629.80H155.40" stroke="#111" stroke-width="2.3"/>
<path d="M392.80,632.90H398.80" stroke="#111" stroke-width="2.3"/>
<path d="M193.30,632.00H203.70M198.50,627.00V637.00" stroke="#111" stroke-width="2"/>
<path d="M439.00,635.00H449.40M444.20,630.00V640.00" stroke="#111" stroke-width="2"/>
<path d="M243.60,629.80H249.60" stroke="#111" stroke-width="2.3"/>
<path d="M489.00,632.90H495.00" stroke="#111" stroke-width="2.3"/>
<path d="M102.80,650.40H108.80" stroke="#111" stroke-width="2.3"/>
<path d="M346.00,653.50H352.00" stroke="#111" stroke-width="2.3"/>
<path d="M149.40,650.40H155.40" stroke="#111" stroke-width="2.3"/>
<path d="M392.80,653.50H398.80" stroke="#111" stroke-width="2.3"/>
<path d="M195.50,650.40H201.50" stroke="#111" stroke-width="2.3"/>
<path d="M441.20,653.50H447.20" stroke="#111" stroke-width="2.3"/>
<path d="M241.40,652.30H251.80M246.60,647.30V657.30" stroke="#111" stroke-width="2"/>
<path d="M486.80,655.40H497.20M492.00,650.40V660.40" stroke="#111" stroke-width="2"/>
<path d="M102.80,669.60H108.80" stroke="#111" stroke-width="2.3"/>
<path d="M346.00,672.80H352.00" stroke="#111" stroke-width="2.3"/>
<path d="M147.20,674.20H157.60M152.40,669.20V679.20" stroke="#111" stroke-width="2"/>
<path d="M390.60,675.50H401.00M395.80,670.50V680.50" stroke="#111" stroke-width="2"/>
<path d="M193.30,674.20H203.70M198.50,669.20V679.20" stroke="#111" stroke-width="2"/>
<path d="M439.00,675.50H449.40M444.20,670.50V680.50" stroke="#111" stroke-width="2"/>
<path d="M241.40,674.20H251.80M246.60,669.20V679.20" stroke="#111" stroke-width="2"/>
<path d="M486.80,675.50H497.20M492.00,670.50V680.50" stroke="#111" stroke-width="2"/>
<text x="68.21" y="708.4" font-size="16.6" textLength="184.85" lengthAdjust="spacingAndGlyphs" fill="#111">PI(3,4,5)P3 Competition</text>
<text x="323.41" y="708.6" font-size="16.6" textLength="176.26" lengthAdjust="spacingAndGlyphs" fill="#111">PI(3,4,5)P3 Production</text>
</svg>
</body></html>
